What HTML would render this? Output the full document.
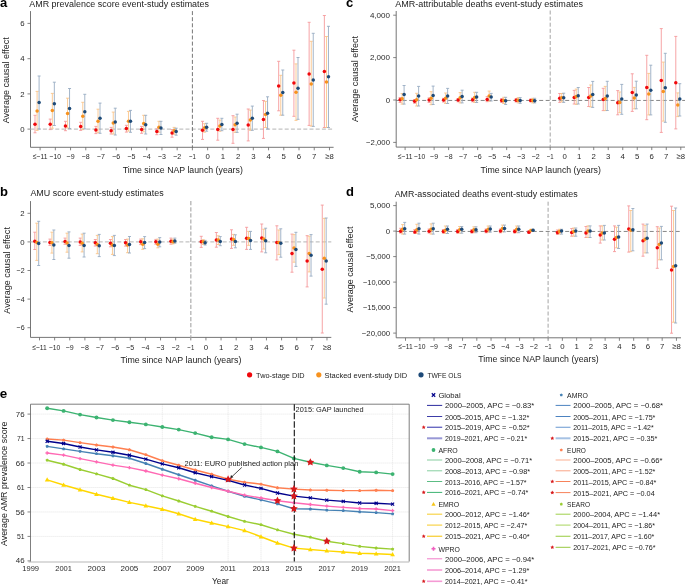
<!DOCTYPE html><html><head><meta charset="utf-8"><style>html,body{margin:0;padding:0;background:#fff;width:685px;height:585px;overflow:hidden}svg{display:block;will-change:transform}text{font-family:"Liberation Sans",sans-serif}</style></head><body>
<svg width="685" height="585" viewBox="0 0 685 585">
<text x="0.00" y="7.00" font-size="13.0" text-anchor="start" fill="#000" font-weight="bold">a</text>
<text x="29.30" y="6.80" font-size="8.3" text-anchor="start" fill="#222" textLength="179.7" lengthAdjust="spacingAndGlyphs">AMR prevalence score event-study estimates</text>
<line x1="30.50" y1="11.10" x2="30.50" y2="147.30" stroke="#666666" stroke-width="0.9"/>
<line x1="30.50" y1="147.30" x2="333.60" y2="147.30" stroke="#666666" stroke-width="0.9"/>
<line x1="27.50" y1="23.40" x2="30.50" y2="23.40" stroke="#666666" stroke-width="0.8"/>
<text x="24.60" y="26.00" font-size="7.8" text-anchor="end" fill="#2a2a2a">6</text>
<line x1="27.50" y1="58.70" x2="30.50" y2="58.70" stroke="#666666" stroke-width="0.8"/>
<text x="24.60" y="61.30" font-size="7.8" text-anchor="end" fill="#2a2a2a">4</text>
<line x1="27.50" y1="93.90" x2="30.50" y2="93.90" stroke="#666666" stroke-width="0.8"/>
<text x="24.60" y="96.50" font-size="7.8" text-anchor="end" fill="#2a2a2a">2</text>
<line x1="27.50" y1="129.10" x2="30.50" y2="129.10" stroke="#666666" stroke-width="0.8"/>
<text x="24.60" y="131.70" font-size="7.8" text-anchor="end" fill="#2a2a2a">0</text>
<line x1="40.10" y1="147.30" x2="40.10" y2="150.30" stroke="#666666" stroke-width="0.8"/>
<text x="40.10" y="159.00" font-size="7.8" text-anchor="middle" fill="#2a2a2a" textLength="14.6" lengthAdjust="spacingAndGlyphs">≤−11</text>
<line x1="55.33" y1="147.30" x2="55.33" y2="150.30" stroke="#666666" stroke-width="0.8"/>
<text x="55.33" y="159.00" font-size="7.8" text-anchor="middle" fill="#2a2a2a" textLength="11.45" lengthAdjust="spacingAndGlyphs">−10</text>
<line x1="70.56" y1="147.30" x2="70.56" y2="150.30" stroke="#666666" stroke-width="0.8"/>
<text x="70.56" y="159.00" font-size="7.8" text-anchor="middle" fill="#2a2a2a" textLength="8.05" lengthAdjust="spacingAndGlyphs">−9</text>
<line x1="85.79" y1="147.30" x2="85.79" y2="150.30" stroke="#666666" stroke-width="0.8"/>
<text x="85.79" y="159.00" font-size="7.8" text-anchor="middle" fill="#2a2a2a" textLength="8.05" lengthAdjust="spacingAndGlyphs">−8</text>
<line x1="101.02" y1="147.30" x2="101.02" y2="150.30" stroke="#666666" stroke-width="0.8"/>
<text x="101.02" y="159.00" font-size="7.8" text-anchor="middle" fill="#2a2a2a" textLength="8.05" lengthAdjust="spacingAndGlyphs">−7</text>
<line x1="116.25" y1="147.30" x2="116.25" y2="150.30" stroke="#666666" stroke-width="0.8"/>
<text x="116.25" y="159.00" font-size="7.8" text-anchor="middle" fill="#2a2a2a" textLength="8.05" lengthAdjust="spacingAndGlyphs">−6</text>
<line x1="131.48" y1="147.30" x2="131.48" y2="150.30" stroke="#666666" stroke-width="0.8"/>
<text x="131.48" y="159.00" font-size="7.8" text-anchor="middle" fill="#2a2a2a" textLength="8.05" lengthAdjust="spacingAndGlyphs">−5</text>
<line x1="146.71" y1="147.30" x2="146.71" y2="150.30" stroke="#666666" stroke-width="0.8"/>
<text x="146.71" y="159.00" font-size="7.8" text-anchor="middle" fill="#2a2a2a" textLength="8.05" lengthAdjust="spacingAndGlyphs">−4</text>
<line x1="161.94" y1="147.30" x2="161.94" y2="150.30" stroke="#666666" stroke-width="0.8"/>
<text x="161.94" y="159.00" font-size="7.8" text-anchor="middle" fill="#2a2a2a" textLength="8.05" lengthAdjust="spacingAndGlyphs">−3</text>
<line x1="177.17" y1="147.30" x2="177.17" y2="150.30" stroke="#666666" stroke-width="0.8"/>
<text x="177.17" y="159.00" font-size="7.8" text-anchor="middle" fill="#2a2a2a" textLength="8.05" lengthAdjust="spacingAndGlyphs">−2</text>
<line x1="192.40" y1="147.30" x2="192.40" y2="150.30" stroke="#666666" stroke-width="0.8"/>
<text x="192.40" y="159.00" font-size="7.8" text-anchor="middle" fill="#2a2a2a" textLength="6.9" lengthAdjust="spacingAndGlyphs">−1</text>
<line x1="207.63" y1="147.30" x2="207.63" y2="150.30" stroke="#666666" stroke-width="0.8"/>
<text x="207.63" y="159.00" font-size="7.8" text-anchor="middle" fill="#2a2a2a">0</text>
<line x1="222.86" y1="147.30" x2="222.86" y2="150.30" stroke="#666666" stroke-width="0.8"/>
<text x="222.86" y="159.00" font-size="7.8" text-anchor="middle" fill="#2a2a2a">1</text>
<line x1="238.09" y1="147.30" x2="238.09" y2="150.30" stroke="#666666" stroke-width="0.8"/>
<text x="238.09" y="159.00" font-size="7.8" text-anchor="middle" fill="#2a2a2a">2</text>
<line x1="253.32" y1="147.30" x2="253.32" y2="150.30" stroke="#666666" stroke-width="0.8"/>
<text x="253.32" y="159.00" font-size="7.8" text-anchor="middle" fill="#2a2a2a">3</text>
<line x1="268.55" y1="147.30" x2="268.55" y2="150.30" stroke="#666666" stroke-width="0.8"/>
<text x="268.55" y="159.00" font-size="7.8" text-anchor="middle" fill="#2a2a2a">4</text>
<line x1="283.78" y1="147.30" x2="283.78" y2="150.30" stroke="#666666" stroke-width="0.8"/>
<text x="283.78" y="159.00" font-size="7.8" text-anchor="middle" fill="#2a2a2a">5</text>
<line x1="299.01" y1="147.30" x2="299.01" y2="150.30" stroke="#666666" stroke-width="0.8"/>
<text x="299.01" y="159.00" font-size="7.8" text-anchor="middle" fill="#2a2a2a">6</text>
<line x1="314.24" y1="147.30" x2="314.24" y2="150.30" stroke="#666666" stroke-width="0.8"/>
<text x="314.24" y="159.00" font-size="7.8" text-anchor="middle" fill="#2a2a2a">7</text>
<line x1="329.47" y1="147.30" x2="329.47" y2="150.30" stroke="#666666" stroke-width="0.8"/>
<text x="329.47" y="159.00" font-size="7.8" text-anchor="middle" fill="#2a2a2a" textLength="8.55" lengthAdjust="spacingAndGlyphs">≥8</text>
<text x="0" y="0" font-size="8.6" fill="#222" text-anchor="middle" textLength="86.1" lengthAdjust="spacingAndGlyphs" transform="translate(8.6,80.2) rotate(-90)">Average causal effect</text>
<text x="182.80" y="172.90" font-size="8.6" text-anchor="middle" fill="#222" textLength="120" lengthAdjust="spacingAndGlyphs">Time since NAP launch (years)</text>
<line x1="30.50" y1="129.10" x2="333.60" y2="129.10" stroke="#c4c4c4" stroke-width="1.3" stroke-dasharray="4 2.2"/>
<line x1="192.40" y1="11.10" x2="192.40" y2="147.30" stroke="#666" stroke-width="0.9" stroke-dasharray="4 2.1"/>
<line x1="35.00" y1="115.30" x2="35.00" y2="132.80" stroke="#f59a9c" stroke-width="0.9"/>
<line x1="33.50" y1="115.30" x2="36.50" y2="115.30" stroke="#f59a9c" stroke-width="0.9"/>
<line x1="33.50" y1="132.80" x2="36.50" y2="132.80" stroke="#f59a9c" stroke-width="0.9"/>
<line x1="37.10" y1="91.40" x2="37.10" y2="130.40" stroke="#fac58a" stroke-width="0.9"/>
<line x1="35.60" y1="91.40" x2="38.60" y2="91.40" stroke="#fac58a" stroke-width="0.9"/>
<line x1="35.60" y1="130.40" x2="38.60" y2="130.40" stroke="#fac58a" stroke-width="0.9"/>
<line x1="39.10" y1="76.00" x2="39.10" y2="129.00" stroke="#98adc3" stroke-width="0.9"/>
<line x1="37.60" y1="76.00" x2="40.60" y2="76.00" stroke="#98adc3" stroke-width="0.9"/>
<line x1="37.60" y1="129.00" x2="40.60" y2="129.00" stroke="#98adc3" stroke-width="0.9"/>
<line x1="50.23" y1="119.10" x2="50.23" y2="129.60" stroke="#f59a9c" stroke-width="0.9"/>
<line x1="48.73" y1="119.10" x2="51.73" y2="119.10" stroke="#f59a9c" stroke-width="0.9"/>
<line x1="48.73" y1="129.60" x2="51.73" y2="129.60" stroke="#f59a9c" stroke-width="0.9"/>
<line x1="52.33" y1="93.40" x2="52.33" y2="128.20" stroke="#fac58a" stroke-width="0.9"/>
<line x1="50.83" y1="93.40" x2="53.83" y2="93.40" stroke="#fac58a" stroke-width="0.9"/>
<line x1="50.83" y1="128.20" x2="53.83" y2="128.20" stroke="#fac58a" stroke-width="0.9"/>
<line x1="54.33" y1="82.20" x2="54.33" y2="125.50" stroke="#98adc3" stroke-width="0.9"/>
<line x1="52.83" y1="82.20" x2="55.83" y2="82.20" stroke="#98adc3" stroke-width="0.9"/>
<line x1="52.83" y1="125.50" x2="55.83" y2="125.50" stroke="#98adc3" stroke-width="0.9"/>
<line x1="65.46" y1="121.30" x2="65.46" y2="130.70" stroke="#f59a9c" stroke-width="0.9"/>
<line x1="63.96" y1="121.30" x2="66.96" y2="121.30" stroke="#f59a9c" stroke-width="0.9"/>
<line x1="63.96" y1="130.70" x2="66.96" y2="130.70" stroke="#f59a9c" stroke-width="0.9"/>
<line x1="67.56" y1="98.20" x2="67.56" y2="128.00" stroke="#fac58a" stroke-width="0.9"/>
<line x1="66.06" y1="98.20" x2="69.06" y2="98.20" stroke="#fac58a" stroke-width="0.9"/>
<line x1="66.06" y1="128.00" x2="69.06" y2="128.00" stroke="#fac58a" stroke-width="0.9"/>
<line x1="69.56" y1="88.50" x2="69.56" y2="128.50" stroke="#98adc3" stroke-width="0.9"/>
<line x1="68.06" y1="88.50" x2="71.06" y2="88.50" stroke="#98adc3" stroke-width="0.9"/>
<line x1="68.06" y1="128.50" x2="71.06" y2="128.50" stroke="#98adc3" stroke-width="0.9"/>
<line x1="80.69" y1="122.30" x2="80.69" y2="130.40" stroke="#f59a9c" stroke-width="0.9"/>
<line x1="79.19" y1="122.30" x2="82.19" y2="122.30" stroke="#f59a9c" stroke-width="0.9"/>
<line x1="79.19" y1="130.40" x2="82.19" y2="130.40" stroke="#f59a9c" stroke-width="0.9"/>
<line x1="82.79" y1="102.30" x2="82.79" y2="129.60" stroke="#fac58a" stroke-width="0.9"/>
<line x1="81.29" y1="102.30" x2="84.29" y2="102.30" stroke="#fac58a" stroke-width="0.9"/>
<line x1="81.29" y1="129.60" x2="84.29" y2="129.60" stroke="#fac58a" stroke-width="0.9"/>
<line x1="84.79" y1="94.30" x2="84.79" y2="128.90" stroke="#98adc3" stroke-width="0.9"/>
<line x1="83.29" y1="94.30" x2="86.29" y2="94.30" stroke="#98adc3" stroke-width="0.9"/>
<line x1="83.29" y1="128.90" x2="86.29" y2="128.90" stroke="#98adc3" stroke-width="0.9"/>
<line x1="95.92" y1="126.40" x2="95.92" y2="133.60" stroke="#f59a9c" stroke-width="0.9"/>
<line x1="94.42" y1="126.40" x2="97.42" y2="126.40" stroke="#f59a9c" stroke-width="0.9"/>
<line x1="94.42" y1="133.60" x2="97.42" y2="133.60" stroke="#f59a9c" stroke-width="0.9"/>
<line x1="98.02" y1="109.20" x2="98.02" y2="132.60" stroke="#fac58a" stroke-width="0.9"/>
<line x1="96.52" y1="109.20" x2="99.52" y2="109.20" stroke="#fac58a" stroke-width="0.9"/>
<line x1="96.52" y1="132.60" x2="99.52" y2="132.60" stroke="#fac58a" stroke-width="0.9"/>
<line x1="100.02" y1="103.10" x2="100.02" y2="133.30" stroke="#98adc3" stroke-width="0.9"/>
<line x1="98.52" y1="103.10" x2="101.52" y2="103.10" stroke="#98adc3" stroke-width="0.9"/>
<line x1="98.52" y1="133.30" x2="101.52" y2="133.30" stroke="#98adc3" stroke-width="0.9"/>
<line x1="111.15" y1="127.40" x2="111.15" y2="134.00" stroke="#f59a9c" stroke-width="0.9"/>
<line x1="109.65" y1="127.40" x2="112.65" y2="127.40" stroke="#f59a9c" stroke-width="0.9"/>
<line x1="109.65" y1="134.00" x2="112.65" y2="134.00" stroke="#f59a9c" stroke-width="0.9"/>
<line x1="113.25" y1="112.10" x2="113.25" y2="134.00" stroke="#fac58a" stroke-width="0.9"/>
<line x1="111.75" y1="112.10" x2="114.75" y2="112.10" stroke="#fac58a" stroke-width="0.9"/>
<line x1="111.75" y1="134.00" x2="114.75" y2="134.00" stroke="#fac58a" stroke-width="0.9"/>
<line x1="115.25" y1="108.20" x2="115.25" y2="135.00" stroke="#98adc3" stroke-width="0.9"/>
<line x1="113.75" y1="108.20" x2="116.75" y2="108.20" stroke="#98adc3" stroke-width="0.9"/>
<line x1="113.75" y1="135.00" x2="116.75" y2="135.00" stroke="#98adc3" stroke-width="0.9"/>
<line x1="126.38" y1="125.30" x2="126.38" y2="132.10" stroke="#f59a9c" stroke-width="0.9"/>
<line x1="124.88" y1="125.30" x2="127.88" y2="125.30" stroke="#f59a9c" stroke-width="0.9"/>
<line x1="124.88" y1="132.10" x2="127.88" y2="132.10" stroke="#f59a9c" stroke-width="0.9"/>
<line x1="128.48" y1="111.40" x2="128.48" y2="131.10" stroke="#fac58a" stroke-width="0.9"/>
<line x1="126.98" y1="111.40" x2="129.98" y2="111.40" stroke="#fac58a" stroke-width="0.9"/>
<line x1="126.98" y1="131.10" x2="129.98" y2="131.10" stroke="#fac58a" stroke-width="0.9"/>
<line x1="130.48" y1="110.40" x2="130.48" y2="132.30" stroke="#98adc3" stroke-width="0.9"/>
<line x1="128.98" y1="110.40" x2="131.98" y2="110.40" stroke="#98adc3" stroke-width="0.9"/>
<line x1="128.98" y1="132.30" x2="131.98" y2="132.30" stroke="#98adc3" stroke-width="0.9"/>
<line x1="141.61" y1="126.40" x2="141.61" y2="133.30" stroke="#f59a9c" stroke-width="0.9"/>
<line x1="140.11" y1="126.40" x2="143.11" y2="126.40" stroke="#f59a9c" stroke-width="0.9"/>
<line x1="140.11" y1="133.30" x2="143.11" y2="133.30" stroke="#f59a9c" stroke-width="0.9"/>
<line x1="143.71" y1="115.30" x2="143.71" y2="131.80" stroke="#fac58a" stroke-width="0.9"/>
<line x1="142.21" y1="115.30" x2="145.21" y2="115.30" stroke="#fac58a" stroke-width="0.9"/>
<line x1="142.21" y1="131.80" x2="145.21" y2="131.80" stroke="#fac58a" stroke-width="0.9"/>
<line x1="145.71" y1="115.30" x2="145.71" y2="134.00" stroke="#98adc3" stroke-width="0.9"/>
<line x1="144.21" y1="115.30" x2="147.21" y2="115.30" stroke="#98adc3" stroke-width="0.9"/>
<line x1="144.21" y1="134.00" x2="147.21" y2="134.00" stroke="#98adc3" stroke-width="0.9"/>
<line x1="156.84" y1="128.90" x2="156.84" y2="134.70" stroke="#f59a9c" stroke-width="0.9"/>
<line x1="155.34" y1="128.90" x2="158.34" y2="128.90" stroke="#f59a9c" stroke-width="0.9"/>
<line x1="155.34" y1="134.70" x2="158.34" y2="134.70" stroke="#f59a9c" stroke-width="0.9"/>
<line x1="158.94" y1="121.30" x2="158.94" y2="132.30" stroke="#fac58a" stroke-width="0.9"/>
<line x1="157.44" y1="121.30" x2="160.44" y2="121.30" stroke="#fac58a" stroke-width="0.9"/>
<line x1="157.44" y1="132.30" x2="160.44" y2="132.30" stroke="#fac58a" stroke-width="0.9"/>
<line x1="160.94" y1="121.30" x2="160.94" y2="134.50" stroke="#98adc3" stroke-width="0.9"/>
<line x1="159.44" y1="121.30" x2="162.44" y2="121.30" stroke="#98adc3" stroke-width="0.9"/>
<line x1="159.44" y1="134.50" x2="162.44" y2="134.50" stroke="#98adc3" stroke-width="0.9"/>
<line x1="172.07" y1="129.60" x2="172.07" y2="137.20" stroke="#f59a9c" stroke-width="0.9"/>
<line x1="170.57" y1="129.60" x2="173.57" y2="129.60" stroke="#f59a9c" stroke-width="0.9"/>
<line x1="170.57" y1="137.20" x2="173.57" y2="137.20" stroke="#f59a9c" stroke-width="0.9"/>
<line x1="174.17" y1="127.40" x2="174.17" y2="134.30" stroke="#fac58a" stroke-width="0.9"/>
<line x1="172.67" y1="127.40" x2="175.67" y2="127.40" stroke="#fac58a" stroke-width="0.9"/>
<line x1="172.67" y1="134.30" x2="175.67" y2="134.30" stroke="#fac58a" stroke-width="0.9"/>
<line x1="176.17" y1="128.20" x2="176.17" y2="135.20" stroke="#98adc3" stroke-width="0.9"/>
<line x1="174.67" y1="128.20" x2="177.67" y2="128.20" stroke="#98adc3" stroke-width="0.9"/>
<line x1="174.67" y1="135.20" x2="177.67" y2="135.20" stroke="#98adc3" stroke-width="0.9"/>
<line x1="202.53" y1="121.30" x2="202.53" y2="139.40" stroke="#f59a9c" stroke-width="0.9"/>
<line x1="201.03" y1="121.30" x2="204.03" y2="121.30" stroke="#f59a9c" stroke-width="0.9"/>
<line x1="201.03" y1="139.40" x2="204.03" y2="139.40" stroke="#f59a9c" stroke-width="0.9"/>
<line x1="204.63" y1="123.70" x2="204.63" y2="132.20" stroke="#fac58a" stroke-width="0.9"/>
<line x1="203.13" y1="123.70" x2="206.13" y2="123.70" stroke="#fac58a" stroke-width="0.9"/>
<line x1="203.13" y1="132.20" x2="206.13" y2="132.20" stroke="#fac58a" stroke-width="0.9"/>
<line x1="206.63" y1="123.30" x2="206.63" y2="131.20" stroke="#98adc3" stroke-width="0.9"/>
<line x1="205.13" y1="123.30" x2="208.13" y2="123.30" stroke="#98adc3" stroke-width="0.9"/>
<line x1="205.13" y1="131.20" x2="208.13" y2="131.20" stroke="#98adc3" stroke-width="0.9"/>
<line x1="217.76" y1="118.30" x2="217.76" y2="140.20" stroke="#f59a9c" stroke-width="0.9"/>
<line x1="216.26" y1="118.30" x2="219.26" y2="118.30" stroke="#f59a9c" stroke-width="0.9"/>
<line x1="216.26" y1="140.20" x2="219.26" y2="140.20" stroke="#f59a9c" stroke-width="0.9"/>
<line x1="219.86" y1="120.10" x2="219.86" y2="131.30" stroke="#fac58a" stroke-width="0.9"/>
<line x1="218.36" y1="120.10" x2="221.36" y2="120.10" stroke="#fac58a" stroke-width="0.9"/>
<line x1="218.36" y1="131.30" x2="221.36" y2="131.30" stroke="#fac58a" stroke-width="0.9"/>
<line x1="221.86" y1="118.30" x2="221.86" y2="130.70" stroke="#98adc3" stroke-width="0.9"/>
<line x1="220.36" y1="118.30" x2="223.36" y2="118.30" stroke="#98adc3" stroke-width="0.9"/>
<line x1="220.36" y1="130.70" x2="223.36" y2="130.70" stroke="#98adc3" stroke-width="0.9"/>
<line x1="232.99" y1="115.70" x2="232.99" y2="143.30" stroke="#f59a9c" stroke-width="0.9"/>
<line x1="231.49" y1="115.70" x2="234.49" y2="115.70" stroke="#f59a9c" stroke-width="0.9"/>
<line x1="231.49" y1="143.30" x2="234.49" y2="143.30" stroke="#f59a9c" stroke-width="0.9"/>
<line x1="235.09" y1="117.00" x2="235.09" y2="132.40" stroke="#fac58a" stroke-width="0.9"/>
<line x1="233.59" y1="117.00" x2="236.59" y2="117.00" stroke="#fac58a" stroke-width="0.9"/>
<line x1="233.59" y1="132.40" x2="236.59" y2="132.40" stroke="#fac58a" stroke-width="0.9"/>
<line x1="237.09" y1="114.20" x2="237.09" y2="132.40" stroke="#98adc3" stroke-width="0.9"/>
<line x1="235.59" y1="114.20" x2="238.59" y2="114.20" stroke="#98adc3" stroke-width="0.9"/>
<line x1="235.59" y1="132.40" x2="238.59" y2="132.40" stroke="#98adc3" stroke-width="0.9"/>
<line x1="248.22" y1="109.00" x2="248.22" y2="140.90" stroke="#f59a9c" stroke-width="0.9"/>
<line x1="246.72" y1="109.00" x2="249.72" y2="109.00" stroke="#f59a9c" stroke-width="0.9"/>
<line x1="246.72" y1="140.90" x2="249.72" y2="140.90" stroke="#f59a9c" stroke-width="0.9"/>
<line x1="250.32" y1="110.10" x2="250.32" y2="130.30" stroke="#fac58a" stroke-width="0.9"/>
<line x1="248.82" y1="110.10" x2="251.82" y2="110.10" stroke="#fac58a" stroke-width="0.9"/>
<line x1="248.82" y1="130.30" x2="251.82" y2="130.30" stroke="#fac58a" stroke-width="0.9"/>
<line x1="252.32" y1="106.10" x2="252.32" y2="130.30" stroke="#98adc3" stroke-width="0.9"/>
<line x1="250.82" y1="106.10" x2="253.82" y2="106.10" stroke="#98adc3" stroke-width="0.9"/>
<line x1="250.82" y1="130.30" x2="253.82" y2="130.30" stroke="#98adc3" stroke-width="0.9"/>
<line x1="263.45" y1="100.50" x2="263.45" y2="138.40" stroke="#f59a9c" stroke-width="0.9"/>
<line x1="261.95" y1="100.50" x2="264.95" y2="100.50" stroke="#f59a9c" stroke-width="0.9"/>
<line x1="261.95" y1="138.40" x2="264.95" y2="138.40" stroke="#f59a9c" stroke-width="0.9"/>
<line x1="265.55" y1="101.40" x2="265.55" y2="127.50" stroke="#fac58a" stroke-width="0.9"/>
<line x1="264.05" y1="101.40" x2="267.05" y2="101.40" stroke="#fac58a" stroke-width="0.9"/>
<line x1="264.05" y1="127.50" x2="267.05" y2="127.50" stroke="#fac58a" stroke-width="0.9"/>
<line x1="267.55" y1="96.80" x2="267.55" y2="129.00" stroke="#98adc3" stroke-width="0.9"/>
<line x1="266.05" y1="96.80" x2="269.05" y2="96.80" stroke="#98adc3" stroke-width="0.9"/>
<line x1="266.05" y1="129.00" x2="269.05" y2="129.00" stroke="#98adc3" stroke-width="0.9"/>
<line x1="278.68" y1="61.30" x2="278.68" y2="110.80" stroke="#f59a9c" stroke-width="0.9"/>
<line x1="277.18" y1="61.30" x2="280.18" y2="61.30" stroke="#f59a9c" stroke-width="0.9"/>
<line x1="277.18" y1="110.80" x2="280.18" y2="110.80" stroke="#f59a9c" stroke-width="0.9"/>
<line x1="280.78" y1="75.30" x2="280.78" y2="115.20" stroke="#fac58a" stroke-width="0.9"/>
<line x1="279.28" y1="75.30" x2="282.28" y2="75.30" stroke="#fac58a" stroke-width="0.9"/>
<line x1="279.28" y1="115.20" x2="282.28" y2="115.20" stroke="#fac58a" stroke-width="0.9"/>
<line x1="282.78" y1="70.00" x2="282.78" y2="115.20" stroke="#98adc3" stroke-width="0.9"/>
<line x1="281.28" y1="70.00" x2="284.28" y2="70.00" stroke="#98adc3" stroke-width="0.9"/>
<line x1="281.28" y1="115.20" x2="284.28" y2="115.20" stroke="#98adc3" stroke-width="0.9"/>
<line x1="293.91" y1="50.20" x2="293.91" y2="116.30" stroke="#f59a9c" stroke-width="0.9"/>
<line x1="292.41" y1="50.20" x2="295.41" y2="50.20" stroke="#f59a9c" stroke-width="0.9"/>
<line x1="292.41" y1="116.30" x2="295.41" y2="116.30" stroke="#f59a9c" stroke-width="0.9"/>
<line x1="296.01" y1="63.90" x2="296.01" y2="120.40" stroke="#fac58a" stroke-width="0.9"/>
<line x1="294.51" y1="63.90" x2="297.51" y2="63.90" stroke="#fac58a" stroke-width="0.9"/>
<line x1="294.51" y1="120.40" x2="297.51" y2="120.40" stroke="#fac58a" stroke-width="0.9"/>
<line x1="298.01" y1="57.50" x2="298.01" y2="119.30" stroke="#98adc3" stroke-width="0.9"/>
<line x1="296.51" y1="57.50" x2="299.51" y2="57.50" stroke="#98adc3" stroke-width="0.9"/>
<line x1="296.51" y1="119.30" x2="299.51" y2="119.30" stroke="#98adc3" stroke-width="0.9"/>
<line x1="309.14" y1="22.30" x2="309.14" y2="125.40" stroke="#f59a9c" stroke-width="0.9"/>
<line x1="307.64" y1="22.30" x2="310.64" y2="22.30" stroke="#f59a9c" stroke-width="0.9"/>
<line x1="307.64" y1="125.40" x2="310.64" y2="125.40" stroke="#f59a9c" stroke-width="0.9"/>
<line x1="311.24" y1="41.30" x2="311.24" y2="126.10" stroke="#fac58a" stroke-width="0.9"/>
<line x1="309.74" y1="41.30" x2="312.74" y2="41.30" stroke="#fac58a" stroke-width="0.9"/>
<line x1="309.74" y1="126.10" x2="312.74" y2="126.10" stroke="#fac58a" stroke-width="0.9"/>
<line x1="313.24" y1="33.30" x2="313.24" y2="126.40" stroke="#98adc3" stroke-width="0.9"/>
<line x1="311.74" y1="33.30" x2="314.74" y2="33.30" stroke="#98adc3" stroke-width="0.9"/>
<line x1="311.74" y1="126.40" x2="314.74" y2="126.40" stroke="#98adc3" stroke-width="0.9"/>
<line x1="324.37" y1="15.50" x2="324.37" y2="127.50" stroke="#f59a9c" stroke-width="0.9"/>
<line x1="322.87" y1="15.50" x2="325.87" y2="15.50" stroke="#f59a9c" stroke-width="0.9"/>
<line x1="322.87" y1="127.50" x2="325.87" y2="127.50" stroke="#f59a9c" stroke-width="0.9"/>
<line x1="326.47" y1="36.50" x2="326.47" y2="127.50" stroke="#fac58a" stroke-width="0.9"/>
<line x1="324.97" y1="36.50" x2="327.97" y2="36.50" stroke="#fac58a" stroke-width="0.9"/>
<line x1="324.97" y1="127.50" x2="327.97" y2="127.50" stroke="#fac58a" stroke-width="0.9"/>
<line x1="328.47" y1="26.30" x2="328.47" y2="127.50" stroke="#98adc3" stroke-width="0.9"/>
<line x1="326.97" y1="26.30" x2="329.97" y2="26.30" stroke="#98adc3" stroke-width="0.9"/>
<line x1="326.97" y1="127.50" x2="329.97" y2="127.50" stroke="#98adc3" stroke-width="0.9"/>
<circle cx="35.00" cy="124.20" r="1.75" fill="#f0080c"/>
<circle cx="37.10" cy="111.00" r="1.75" fill="#f7921e"/>
<circle cx="39.10" cy="102.60" r="1.75" fill="#1d4a78"/>
<circle cx="50.23" cy="124.20" r="1.75" fill="#f0080c"/>
<circle cx="52.33" cy="110.40" r="1.75" fill="#f7921e"/>
<circle cx="54.33" cy="103.80" r="1.75" fill="#1d4a78"/>
<circle cx="65.46" cy="126.10" r="1.75" fill="#f0080c"/>
<circle cx="67.56" cy="113.60" r="1.75" fill="#f7921e"/>
<circle cx="69.56" cy="108.50" r="1.75" fill="#1d4a78"/>
<circle cx="80.69" cy="126.40" r="1.75" fill="#f0080c"/>
<circle cx="82.79" cy="116.20" r="1.75" fill="#f7921e"/>
<circle cx="84.79" cy="111.80" r="1.75" fill="#1d4a78"/>
<circle cx="95.92" cy="129.90" r="1.75" fill="#f0080c"/>
<circle cx="98.02" cy="121.30" r="1.75" fill="#f7921e"/>
<circle cx="100.02" cy="118.20" r="1.75" fill="#1d4a78"/>
<circle cx="111.15" cy="130.80" r="1.75" fill="#f0080c"/>
<circle cx="113.25" cy="123.10" r="1.75" fill="#f7921e"/>
<circle cx="115.25" cy="121.90" r="1.75" fill="#1d4a78"/>
<circle cx="126.38" cy="128.60" r="1.75" fill="#f0080c"/>
<circle cx="128.48" cy="121.30" r="1.75" fill="#f7921e"/>
<circle cx="130.48" cy="121.30" r="1.75" fill="#1d4a78"/>
<circle cx="141.61" cy="129.60" r="1.75" fill="#f0080c"/>
<circle cx="143.71" cy="123.50" r="1.75" fill="#f7921e"/>
<circle cx="145.71" cy="124.80" r="1.75" fill="#1d4a78"/>
<circle cx="156.84" cy="131.40" r="1.75" fill="#f0080c"/>
<circle cx="158.94" cy="127.20" r="1.75" fill="#f7921e"/>
<circle cx="160.94" cy="127.90" r="1.75" fill="#1d4a78"/>
<circle cx="172.07" cy="133.00" r="1.75" fill="#f0080c"/>
<circle cx="174.17" cy="130.80" r="1.75" fill="#f7921e"/>
<circle cx="176.17" cy="131.50" r="1.75" fill="#1d4a78"/>
<circle cx="202.53" cy="130.30" r="1.75" fill="#f0080c"/>
<circle cx="204.63" cy="127.80" r="1.75" fill="#f7921e"/>
<circle cx="206.63" cy="127.20" r="1.75" fill="#1d4a78"/>
<circle cx="217.76" cy="129.50" r="1.75" fill="#f0080c"/>
<circle cx="219.86" cy="126.00" r="1.75" fill="#f7921e"/>
<circle cx="221.86" cy="124.50" r="1.75" fill="#1d4a78"/>
<circle cx="232.99" cy="129.50" r="1.75" fill="#f0080c"/>
<circle cx="235.09" cy="124.70" r="1.75" fill="#f7921e"/>
<circle cx="237.09" cy="123.30" r="1.75" fill="#1d4a78"/>
<circle cx="248.22" cy="125.10" r="1.75" fill="#f0080c"/>
<circle cx="250.32" cy="120.10" r="1.75" fill="#f7921e"/>
<circle cx="252.32" cy="118.30" r="1.75" fill="#1d4a78"/>
<circle cx="263.45" cy="119.50" r="1.75" fill="#f0080c"/>
<circle cx="265.55" cy="114.40" r="1.75" fill="#f7921e"/>
<circle cx="267.55" cy="113.20" r="1.75" fill="#1d4a78"/>
<circle cx="278.68" cy="86.10" r="1.75" fill="#f0080c"/>
<circle cx="280.78" cy="95.30" r="1.75" fill="#f7921e"/>
<circle cx="282.78" cy="92.60" r="1.75" fill="#1d4a78"/>
<circle cx="293.91" cy="83.00" r="1.75" fill="#f0080c"/>
<circle cx="296.01" cy="92.20" r="1.75" fill="#f7921e"/>
<circle cx="298.01" cy="88.20" r="1.75" fill="#1d4a78"/>
<circle cx="309.14" cy="74.10" r="1.75" fill="#f0080c"/>
<circle cx="311.24" cy="84.00" r="1.75" fill="#f7921e"/>
<circle cx="313.24" cy="79.90" r="1.75" fill="#1d4a78"/>
<circle cx="324.37" cy="71.60" r="1.75" fill="#f0080c"/>
<circle cx="326.47" cy="82.00" r="1.75" fill="#f7921e"/>
<circle cx="328.47" cy="76.80" r="1.75" fill="#1d4a78"/>
<text x="0.00" y="196.00" font-size="13.0" text-anchor="start" fill="#000" font-weight="bold">b</text>
<text x="30.40" y="195.90" font-size="8.3" text-anchor="start" fill="#222" textLength="133.3" lengthAdjust="spacingAndGlyphs">AMU score event-study estimates</text>
<line x1="30.50" y1="201.10" x2="30.50" y2="337.40" stroke="#666666" stroke-width="0.9"/>
<line x1="30.50" y1="337.40" x2="331.30" y2="337.40" stroke="#666666" stroke-width="0.9"/>
<line x1="27.50" y1="213.30" x2="30.50" y2="213.30" stroke="#666666" stroke-width="0.8"/>
<text x="24.60" y="215.90" font-size="7.8" text-anchor="end" fill="#2a2a2a">2</text>
<line x1="27.50" y1="241.90" x2="30.50" y2="241.90" stroke="#666666" stroke-width="0.8"/>
<text x="24.60" y="244.50" font-size="7.8" text-anchor="end" fill="#2a2a2a">0</text>
<line x1="27.50" y1="270.50" x2="30.50" y2="270.50" stroke="#666666" stroke-width="0.8"/>
<text x="24.60" y="273.10" font-size="7.8" text-anchor="end" fill="#2a2a2a" textLength="8.05" lengthAdjust="spacingAndGlyphs">−2</text>
<line x1="27.50" y1="299.10" x2="30.50" y2="299.10" stroke="#666666" stroke-width="0.8"/>
<text x="24.60" y="301.70" font-size="7.8" text-anchor="end" fill="#2a2a2a" textLength="8.05" lengthAdjust="spacingAndGlyphs">−4</text>
<line x1="27.50" y1="327.70" x2="30.50" y2="327.70" stroke="#666666" stroke-width="0.8"/>
<text x="24.60" y="330.30" font-size="7.8" text-anchor="end" fill="#2a2a2a" textLength="8.05" lengthAdjust="spacingAndGlyphs">−6</text>
<line x1="39.50" y1="337.40" x2="39.50" y2="340.40" stroke="#666666" stroke-width="0.8"/>
<text x="39.50" y="349.50" font-size="7.8" text-anchor="middle" fill="#2a2a2a" textLength="14.6" lengthAdjust="spacingAndGlyphs">≤−11</text>
<line x1="54.63" y1="337.40" x2="54.63" y2="340.40" stroke="#666666" stroke-width="0.8"/>
<text x="54.63" y="349.50" font-size="7.8" text-anchor="middle" fill="#2a2a2a" textLength="11.45" lengthAdjust="spacingAndGlyphs">−10</text>
<line x1="69.76" y1="337.40" x2="69.76" y2="340.40" stroke="#666666" stroke-width="0.8"/>
<text x="69.76" y="349.50" font-size="7.8" text-anchor="middle" fill="#2a2a2a" textLength="8.05" lengthAdjust="spacingAndGlyphs">−9</text>
<line x1="84.89" y1="337.40" x2="84.89" y2="340.40" stroke="#666666" stroke-width="0.8"/>
<text x="84.89" y="349.50" font-size="7.8" text-anchor="middle" fill="#2a2a2a" textLength="8.05" lengthAdjust="spacingAndGlyphs">−8</text>
<line x1="100.02" y1="337.40" x2="100.02" y2="340.40" stroke="#666666" stroke-width="0.8"/>
<text x="100.02" y="349.50" font-size="7.8" text-anchor="middle" fill="#2a2a2a" textLength="8.05" lengthAdjust="spacingAndGlyphs">−7</text>
<line x1="115.15" y1="337.40" x2="115.15" y2="340.40" stroke="#666666" stroke-width="0.8"/>
<text x="115.15" y="349.50" font-size="7.8" text-anchor="middle" fill="#2a2a2a" textLength="8.05" lengthAdjust="spacingAndGlyphs">−6</text>
<line x1="130.28" y1="337.40" x2="130.28" y2="340.40" stroke="#666666" stroke-width="0.8"/>
<text x="130.28" y="349.50" font-size="7.8" text-anchor="middle" fill="#2a2a2a" textLength="8.05" lengthAdjust="spacingAndGlyphs">−5</text>
<line x1="145.41" y1="337.40" x2="145.41" y2="340.40" stroke="#666666" stroke-width="0.8"/>
<text x="145.41" y="349.50" font-size="7.8" text-anchor="middle" fill="#2a2a2a" textLength="8.05" lengthAdjust="spacingAndGlyphs">−4</text>
<line x1="160.54" y1="337.40" x2="160.54" y2="340.40" stroke="#666666" stroke-width="0.8"/>
<text x="160.54" y="349.50" font-size="7.8" text-anchor="middle" fill="#2a2a2a" textLength="8.05" lengthAdjust="spacingAndGlyphs">−3</text>
<line x1="175.67" y1="337.40" x2="175.67" y2="340.40" stroke="#666666" stroke-width="0.8"/>
<text x="175.67" y="349.50" font-size="7.8" text-anchor="middle" fill="#2a2a2a" textLength="8.05" lengthAdjust="spacingAndGlyphs">−2</text>
<line x1="190.80" y1="337.40" x2="190.80" y2="340.40" stroke="#666666" stroke-width="0.8"/>
<text x="190.80" y="349.50" font-size="7.8" text-anchor="middle" fill="#2a2a2a" textLength="6.9" lengthAdjust="spacingAndGlyphs">−1</text>
<line x1="205.93" y1="337.40" x2="205.93" y2="340.40" stroke="#666666" stroke-width="0.8"/>
<text x="205.93" y="349.50" font-size="7.8" text-anchor="middle" fill="#2a2a2a">0</text>
<line x1="221.06" y1="337.40" x2="221.06" y2="340.40" stroke="#666666" stroke-width="0.8"/>
<text x="221.06" y="349.50" font-size="7.8" text-anchor="middle" fill="#2a2a2a">1</text>
<line x1="236.19" y1="337.40" x2="236.19" y2="340.40" stroke="#666666" stroke-width="0.8"/>
<text x="236.19" y="349.50" font-size="7.8" text-anchor="middle" fill="#2a2a2a">2</text>
<line x1="251.32" y1="337.40" x2="251.32" y2="340.40" stroke="#666666" stroke-width="0.8"/>
<text x="251.32" y="349.50" font-size="7.8" text-anchor="middle" fill="#2a2a2a">3</text>
<line x1="266.45" y1="337.40" x2="266.45" y2="340.40" stroke="#666666" stroke-width="0.8"/>
<text x="266.45" y="349.50" font-size="7.8" text-anchor="middle" fill="#2a2a2a">4</text>
<line x1="281.58" y1="337.40" x2="281.58" y2="340.40" stroke="#666666" stroke-width="0.8"/>
<text x="281.58" y="349.50" font-size="7.8" text-anchor="middle" fill="#2a2a2a">5</text>
<line x1="296.71" y1="337.40" x2="296.71" y2="340.40" stroke="#666666" stroke-width="0.8"/>
<text x="296.71" y="349.50" font-size="7.8" text-anchor="middle" fill="#2a2a2a">6</text>
<line x1="311.84" y1="337.40" x2="311.84" y2="340.40" stroke="#666666" stroke-width="0.8"/>
<text x="311.84" y="349.50" font-size="7.8" text-anchor="middle" fill="#2a2a2a">7</text>
<line x1="326.97" y1="337.40" x2="326.97" y2="340.40" stroke="#666666" stroke-width="0.8"/>
<text x="326.97" y="349.50" font-size="7.8" text-anchor="middle" fill="#2a2a2a" textLength="8.55" lengthAdjust="spacingAndGlyphs">≥8</text>
<text x="0" y="0" font-size="8.6" fill="#222" text-anchor="middle" textLength="86.6" lengthAdjust="spacingAndGlyphs" transform="translate(10.0,270.4) rotate(-90)">Average causal effect</text>
<text x="180.90" y="362.90" font-size="8.6" text-anchor="middle" fill="#222" textLength="121" lengthAdjust="spacingAndGlyphs">Time since NAP launch (years)</text>
<line x1="30.50" y1="241.90" x2="331.30" y2="241.90" stroke="#c4c4c4" stroke-width="1.3" stroke-dasharray="4 2.2"/>
<line x1="190.80" y1="201.10" x2="190.80" y2="337.40" stroke="#bdbdbd" stroke-width="1.5" stroke-dasharray="4.2 1.9"/>
<line x1="34.80" y1="232.20" x2="34.80" y2="249.50" stroke="#f59a9c" stroke-width="0.9"/>
<line x1="33.30" y1="232.20" x2="36.30" y2="232.20" stroke="#f59a9c" stroke-width="0.9"/>
<line x1="33.30" y1="249.50" x2="36.30" y2="249.50" stroke="#f59a9c" stroke-width="0.9"/>
<line x1="36.80" y1="223.20" x2="36.80" y2="260.40" stroke="#fac58a" stroke-width="0.9"/>
<line x1="35.30" y1="223.20" x2="38.30" y2="223.20" stroke="#fac58a" stroke-width="0.9"/>
<line x1="35.30" y1="260.40" x2="38.30" y2="260.40" stroke="#fac58a" stroke-width="0.9"/>
<line x1="38.70" y1="221.30" x2="38.70" y2="265.50" stroke="#98adc3" stroke-width="0.9"/>
<line x1="37.20" y1="221.30" x2="40.20" y2="221.30" stroke="#98adc3" stroke-width="0.9"/>
<line x1="37.20" y1="265.50" x2="40.20" y2="265.50" stroke="#98adc3" stroke-width="0.9"/>
<line x1="49.93" y1="239.10" x2="49.93" y2="245.40" stroke="#f59a9c" stroke-width="0.9"/>
<line x1="48.43" y1="239.10" x2="51.43" y2="239.10" stroke="#f59a9c" stroke-width="0.9"/>
<line x1="48.43" y1="245.40" x2="51.43" y2="245.40" stroke="#f59a9c" stroke-width="0.9"/>
<line x1="51.93" y1="232.20" x2="51.93" y2="253.10" stroke="#fac58a" stroke-width="0.9"/>
<line x1="50.43" y1="232.20" x2="53.43" y2="232.20" stroke="#fac58a" stroke-width="0.9"/>
<line x1="50.43" y1="253.10" x2="53.43" y2="253.10" stroke="#fac58a" stroke-width="0.9"/>
<line x1="53.83" y1="230.00" x2="53.83" y2="259.50" stroke="#98adc3" stroke-width="0.9"/>
<line x1="52.33" y1="230.00" x2="55.33" y2="230.00" stroke="#98adc3" stroke-width="0.9"/>
<line x1="52.33" y1="259.50" x2="55.33" y2="259.50" stroke="#98adc3" stroke-width="0.9"/>
<line x1="65.06" y1="238.10" x2="65.06" y2="244.30" stroke="#f59a9c" stroke-width="0.9"/>
<line x1="63.56" y1="238.10" x2="66.56" y2="238.10" stroke="#f59a9c" stroke-width="0.9"/>
<line x1="63.56" y1="244.30" x2="66.56" y2="244.30" stroke="#f59a9c" stroke-width="0.9"/>
<line x1="67.06" y1="233.20" x2="67.06" y2="252.20" stroke="#fac58a" stroke-width="0.9"/>
<line x1="65.56" y1="233.20" x2="68.56" y2="233.20" stroke="#fac58a" stroke-width="0.9"/>
<line x1="65.56" y1="252.20" x2="68.56" y2="252.20" stroke="#fac58a" stroke-width="0.9"/>
<line x1="68.96" y1="231.90" x2="68.96" y2="258.20" stroke="#98adc3" stroke-width="0.9"/>
<line x1="67.46" y1="231.90" x2="70.46" y2="231.90" stroke="#98adc3" stroke-width="0.9"/>
<line x1="67.46" y1="258.20" x2="70.46" y2="258.20" stroke="#98adc3" stroke-width="0.9"/>
<line x1="80.19" y1="238.10" x2="80.19" y2="245.40" stroke="#f59a9c" stroke-width="0.9"/>
<line x1="78.69" y1="238.10" x2="81.69" y2="238.10" stroke="#f59a9c" stroke-width="0.9"/>
<line x1="78.69" y1="245.40" x2="81.69" y2="245.40" stroke="#f59a9c" stroke-width="0.9"/>
<line x1="82.19" y1="234.10" x2="82.19" y2="251.90" stroke="#fac58a" stroke-width="0.9"/>
<line x1="80.69" y1="234.10" x2="83.69" y2="234.10" stroke="#fac58a" stroke-width="0.9"/>
<line x1="80.69" y1="251.90" x2="83.69" y2="251.90" stroke="#fac58a" stroke-width="0.9"/>
<line x1="84.09" y1="233.20" x2="84.09" y2="257.00" stroke="#98adc3" stroke-width="0.9"/>
<line x1="82.59" y1="233.20" x2="85.59" y2="233.20" stroke="#98adc3" stroke-width="0.9"/>
<line x1="82.59" y1="257.00" x2="85.59" y2="257.00" stroke="#98adc3" stroke-width="0.9"/>
<line x1="95.32" y1="239.50" x2="95.32" y2="246.00" stroke="#f59a9c" stroke-width="0.9"/>
<line x1="93.82" y1="239.50" x2="96.82" y2="239.50" stroke="#f59a9c" stroke-width="0.9"/>
<line x1="93.82" y1="246.00" x2="96.82" y2="246.00" stroke="#f59a9c" stroke-width="0.9"/>
<line x1="97.32" y1="235.40" x2="97.32" y2="253.70" stroke="#fac58a" stroke-width="0.9"/>
<line x1="95.82" y1="235.40" x2="98.82" y2="235.40" stroke="#fac58a" stroke-width="0.9"/>
<line x1="95.82" y1="253.70" x2="98.82" y2="253.70" stroke="#fac58a" stroke-width="0.9"/>
<line x1="99.22" y1="234.40" x2="99.22" y2="256.60" stroke="#98adc3" stroke-width="0.9"/>
<line x1="97.72" y1="234.40" x2="100.72" y2="234.40" stroke="#98adc3" stroke-width="0.9"/>
<line x1="97.72" y1="256.60" x2="100.72" y2="256.60" stroke="#98adc3" stroke-width="0.9"/>
<line x1="110.45" y1="239.50" x2="110.45" y2="246.80" stroke="#f59a9c" stroke-width="0.9"/>
<line x1="108.95" y1="239.50" x2="111.95" y2="239.50" stroke="#f59a9c" stroke-width="0.9"/>
<line x1="108.95" y1="246.80" x2="111.95" y2="246.80" stroke="#f59a9c" stroke-width="0.9"/>
<line x1="112.45" y1="236.60" x2="112.45" y2="254.40" stroke="#fac58a" stroke-width="0.9"/>
<line x1="110.95" y1="236.60" x2="113.95" y2="236.60" stroke="#fac58a" stroke-width="0.9"/>
<line x1="110.95" y1="254.40" x2="113.95" y2="254.40" stroke="#fac58a" stroke-width="0.9"/>
<line x1="114.35" y1="235.40" x2="114.35" y2="255.60" stroke="#98adc3" stroke-width="0.9"/>
<line x1="112.85" y1="235.40" x2="115.85" y2="235.40" stroke="#98adc3" stroke-width="0.9"/>
<line x1="112.85" y1="255.60" x2="115.85" y2="255.60" stroke="#98adc3" stroke-width="0.9"/>
<line x1="125.58" y1="239.50" x2="125.58" y2="246.10" stroke="#f59a9c" stroke-width="0.9"/>
<line x1="124.08" y1="239.50" x2="127.08" y2="239.50" stroke="#f59a9c" stroke-width="0.9"/>
<line x1="124.08" y1="246.10" x2="127.08" y2="246.10" stroke="#f59a9c" stroke-width="0.9"/>
<line x1="127.58" y1="239.10" x2="127.58" y2="252.70" stroke="#fac58a" stroke-width="0.9"/>
<line x1="126.08" y1="239.10" x2="129.08" y2="239.10" stroke="#fac58a" stroke-width="0.9"/>
<line x1="126.08" y1="252.70" x2="129.08" y2="252.70" stroke="#fac58a" stroke-width="0.9"/>
<line x1="129.48" y1="236.50" x2="129.48" y2="253.00" stroke="#98adc3" stroke-width="0.9"/>
<line x1="127.98" y1="236.50" x2="130.98" y2="236.50" stroke="#98adc3" stroke-width="0.9"/>
<line x1="127.98" y1="253.00" x2="130.98" y2="253.00" stroke="#98adc3" stroke-width="0.9"/>
<line x1="140.71" y1="239.10" x2="140.71" y2="244.60" stroke="#f59a9c" stroke-width="0.9"/>
<line x1="139.21" y1="239.10" x2="142.21" y2="239.10" stroke="#f59a9c" stroke-width="0.9"/>
<line x1="139.21" y1="244.60" x2="142.21" y2="244.60" stroke="#f59a9c" stroke-width="0.9"/>
<line x1="142.71" y1="238.80" x2="142.71" y2="249.30" stroke="#fac58a" stroke-width="0.9"/>
<line x1="141.21" y1="238.80" x2="144.21" y2="238.80" stroke="#fac58a" stroke-width="0.9"/>
<line x1="141.21" y1="249.30" x2="144.21" y2="249.30" stroke="#fac58a" stroke-width="0.9"/>
<line x1="144.61" y1="236.60" x2="144.61" y2="248.60" stroke="#98adc3" stroke-width="0.9"/>
<line x1="143.11" y1="236.60" x2="146.11" y2="236.60" stroke="#98adc3" stroke-width="0.9"/>
<line x1="143.11" y1="248.60" x2="146.11" y2="248.60" stroke="#98adc3" stroke-width="0.9"/>
<line x1="155.84" y1="239.40" x2="155.84" y2="244.20" stroke="#f59a9c" stroke-width="0.9"/>
<line x1="154.34" y1="239.40" x2="157.34" y2="239.40" stroke="#f59a9c" stroke-width="0.9"/>
<line x1="154.34" y1="244.20" x2="157.34" y2="244.20" stroke="#f59a9c" stroke-width="0.9"/>
<line x1="157.84" y1="239.10" x2="157.84" y2="247.80" stroke="#fac58a" stroke-width="0.9"/>
<line x1="156.34" y1="239.10" x2="159.34" y2="239.10" stroke="#fac58a" stroke-width="0.9"/>
<line x1="156.34" y1="247.80" x2="159.34" y2="247.80" stroke="#fac58a" stroke-width="0.9"/>
<line x1="159.74" y1="237.60" x2="159.74" y2="246.80" stroke="#98adc3" stroke-width="0.9"/>
<line x1="158.24" y1="237.60" x2="161.24" y2="237.60" stroke="#98adc3" stroke-width="0.9"/>
<line x1="158.24" y1="246.80" x2="161.24" y2="246.80" stroke="#98adc3" stroke-width="0.9"/>
<line x1="170.97" y1="238.10" x2="170.97" y2="244.20" stroke="#f59a9c" stroke-width="0.9"/>
<line x1="169.47" y1="238.10" x2="172.47" y2="238.10" stroke="#f59a9c" stroke-width="0.9"/>
<line x1="169.47" y1="244.20" x2="172.47" y2="244.20" stroke="#f59a9c" stroke-width="0.9"/>
<line x1="172.97" y1="239.10" x2="172.97" y2="243.90" stroke="#fac58a" stroke-width="0.9"/>
<line x1="171.47" y1="239.10" x2="174.47" y2="239.10" stroke="#fac58a" stroke-width="0.9"/>
<line x1="171.47" y1="243.90" x2="174.47" y2="243.90" stroke="#fac58a" stroke-width="0.9"/>
<line x1="174.87" y1="238.10" x2="174.87" y2="243.20" stroke="#98adc3" stroke-width="0.9"/>
<line x1="173.37" y1="238.10" x2="176.37" y2="238.10" stroke="#98adc3" stroke-width="0.9"/>
<line x1="173.37" y1="243.20" x2="176.37" y2="243.20" stroke="#98adc3" stroke-width="0.9"/>
<line x1="201.23" y1="236.30" x2="201.23" y2="247.40" stroke="#f59a9c" stroke-width="0.9"/>
<line x1="199.73" y1="236.30" x2="202.73" y2="236.30" stroke="#f59a9c" stroke-width="0.9"/>
<line x1="199.73" y1="247.40" x2="202.73" y2="247.40" stroke="#f59a9c" stroke-width="0.9"/>
<line x1="203.23" y1="239.70" x2="203.23" y2="244.50" stroke="#fac58a" stroke-width="0.9"/>
<line x1="201.73" y1="239.70" x2="204.73" y2="239.70" stroke="#fac58a" stroke-width="0.9"/>
<line x1="201.73" y1="244.50" x2="204.73" y2="244.50" stroke="#fac58a" stroke-width="0.9"/>
<line x1="205.13" y1="240.40" x2="205.13" y2="245.00" stroke="#98adc3" stroke-width="0.9"/>
<line x1="203.63" y1="240.40" x2="206.63" y2="240.40" stroke="#98adc3" stroke-width="0.9"/>
<line x1="203.63" y1="245.00" x2="206.63" y2="245.00" stroke="#98adc3" stroke-width="0.9"/>
<line x1="216.36" y1="232.50" x2="216.36" y2="247.20" stroke="#f59a9c" stroke-width="0.9"/>
<line x1="214.86" y1="232.50" x2="217.86" y2="232.50" stroke="#f59a9c" stroke-width="0.9"/>
<line x1="214.86" y1="247.20" x2="217.86" y2="247.20" stroke="#f59a9c" stroke-width="0.9"/>
<line x1="218.36" y1="235.80" x2="218.36" y2="244.50" stroke="#fac58a" stroke-width="0.9"/>
<line x1="216.86" y1="235.80" x2="219.86" y2="235.80" stroke="#fac58a" stroke-width="0.9"/>
<line x1="216.86" y1="244.50" x2="219.86" y2="244.50" stroke="#fac58a" stroke-width="0.9"/>
<line x1="220.26" y1="236.60" x2="220.26" y2="245.70" stroke="#98adc3" stroke-width="0.9"/>
<line x1="218.76" y1="236.60" x2="221.76" y2="236.60" stroke="#98adc3" stroke-width="0.9"/>
<line x1="218.76" y1="245.70" x2="221.76" y2="245.70" stroke="#98adc3" stroke-width="0.9"/>
<line x1="231.49" y1="229.80" x2="231.49" y2="248.40" stroke="#f59a9c" stroke-width="0.9"/>
<line x1="229.99" y1="229.80" x2="232.99" y2="229.80" stroke="#f59a9c" stroke-width="0.9"/>
<line x1="229.99" y1="248.40" x2="232.99" y2="248.40" stroke="#f59a9c" stroke-width="0.9"/>
<line x1="233.49" y1="234.40" x2="233.49" y2="245.30" stroke="#fac58a" stroke-width="0.9"/>
<line x1="231.99" y1="234.40" x2="234.99" y2="234.40" stroke="#fac58a" stroke-width="0.9"/>
<line x1="231.99" y1="245.30" x2="234.99" y2="245.30" stroke="#fac58a" stroke-width="0.9"/>
<line x1="235.39" y1="234.80" x2="235.39" y2="247.80" stroke="#98adc3" stroke-width="0.9"/>
<line x1="233.89" y1="234.80" x2="236.89" y2="234.80" stroke="#98adc3" stroke-width="0.9"/>
<line x1="233.89" y1="247.80" x2="236.89" y2="247.80" stroke="#98adc3" stroke-width="0.9"/>
<line x1="246.62" y1="227.30" x2="246.62" y2="249.40" stroke="#f59a9c" stroke-width="0.9"/>
<line x1="245.12" y1="227.30" x2="248.12" y2="227.30" stroke="#f59a9c" stroke-width="0.9"/>
<line x1="245.12" y1="249.40" x2="248.12" y2="249.40" stroke="#f59a9c" stroke-width="0.9"/>
<line x1="248.62" y1="231.40" x2="248.62" y2="245.30" stroke="#fac58a" stroke-width="0.9"/>
<line x1="247.12" y1="231.40" x2="250.12" y2="231.40" stroke="#fac58a" stroke-width="0.9"/>
<line x1="247.12" y1="245.30" x2="250.12" y2="245.30" stroke="#fac58a" stroke-width="0.9"/>
<line x1="250.52" y1="231.40" x2="250.52" y2="249.40" stroke="#98adc3" stroke-width="0.9"/>
<line x1="249.02" y1="231.40" x2="252.02" y2="231.40" stroke="#98adc3" stroke-width="0.9"/>
<line x1="249.02" y1="249.40" x2="252.02" y2="249.40" stroke="#98adc3" stroke-width="0.9"/>
<line x1="261.75" y1="224.00" x2="261.75" y2="251.90" stroke="#f59a9c" stroke-width="0.9"/>
<line x1="260.25" y1="224.00" x2="263.25" y2="224.00" stroke="#f59a9c" stroke-width="0.9"/>
<line x1="260.25" y1="251.90" x2="263.25" y2="251.90" stroke="#f59a9c" stroke-width="0.9"/>
<line x1="263.75" y1="229.20" x2="263.75" y2="249.00" stroke="#fac58a" stroke-width="0.9"/>
<line x1="262.25" y1="229.20" x2="265.25" y2="229.20" stroke="#fac58a" stroke-width="0.9"/>
<line x1="262.25" y1="249.00" x2="265.25" y2="249.00" stroke="#fac58a" stroke-width="0.9"/>
<line x1="265.65" y1="228.20" x2="265.65" y2="252.80" stroke="#98adc3" stroke-width="0.9"/>
<line x1="264.15" y1="228.20" x2="267.15" y2="228.20" stroke="#98adc3" stroke-width="0.9"/>
<line x1="264.15" y1="252.80" x2="267.15" y2="252.80" stroke="#98adc3" stroke-width="0.9"/>
<line x1="276.88" y1="225.80" x2="276.88" y2="259.90" stroke="#f59a9c" stroke-width="0.9"/>
<line x1="275.38" y1="225.80" x2="278.38" y2="225.80" stroke="#f59a9c" stroke-width="0.9"/>
<line x1="275.38" y1="259.90" x2="278.38" y2="259.90" stroke="#f59a9c" stroke-width="0.9"/>
<line x1="278.88" y1="230.00" x2="278.88" y2="254.60" stroke="#fac58a" stroke-width="0.9"/>
<line x1="277.38" y1="230.00" x2="280.38" y2="230.00" stroke="#fac58a" stroke-width="0.9"/>
<line x1="277.38" y1="254.60" x2="280.38" y2="254.60" stroke="#fac58a" stroke-width="0.9"/>
<line x1="280.78" y1="228.80" x2="280.78" y2="257.20" stroke="#98adc3" stroke-width="0.9"/>
<line x1="279.28" y1="228.80" x2="282.28" y2="228.80" stroke="#98adc3" stroke-width="0.9"/>
<line x1="279.28" y1="257.20" x2="282.28" y2="257.20" stroke="#98adc3" stroke-width="0.9"/>
<line x1="292.01" y1="234.10" x2="292.01" y2="272.20" stroke="#f59a9c" stroke-width="0.9"/>
<line x1="290.51" y1="234.10" x2="293.51" y2="234.10" stroke="#f59a9c" stroke-width="0.9"/>
<line x1="290.51" y1="272.20" x2="293.51" y2="272.20" stroke="#f59a9c" stroke-width="0.9"/>
<line x1="294.01" y1="234.60" x2="294.01" y2="262.20" stroke="#fac58a" stroke-width="0.9"/>
<line x1="292.51" y1="234.60" x2="295.51" y2="234.60" stroke="#fac58a" stroke-width="0.9"/>
<line x1="292.51" y1="262.20" x2="295.51" y2="262.20" stroke="#fac58a" stroke-width="0.9"/>
<line x1="295.91" y1="232.30" x2="295.91" y2="266.40" stroke="#98adc3" stroke-width="0.9"/>
<line x1="294.41" y1="232.30" x2="297.41" y2="232.30" stroke="#98adc3" stroke-width="0.9"/>
<line x1="294.41" y1="266.40" x2="297.41" y2="266.40" stroke="#98adc3" stroke-width="0.9"/>
<line x1="307.14" y1="235.70" x2="307.14" y2="286.90" stroke="#f59a9c" stroke-width="0.9"/>
<line x1="305.64" y1="235.70" x2="308.64" y2="235.70" stroke="#f59a9c" stroke-width="0.9"/>
<line x1="305.64" y1="286.90" x2="308.64" y2="286.90" stroke="#f59a9c" stroke-width="0.9"/>
<line x1="309.14" y1="236.20" x2="309.14" y2="271.90" stroke="#fac58a" stroke-width="0.9"/>
<line x1="307.64" y1="236.20" x2="310.64" y2="236.20" stroke="#fac58a" stroke-width="0.9"/>
<line x1="307.64" y1="271.90" x2="310.64" y2="271.90" stroke="#fac58a" stroke-width="0.9"/>
<line x1="311.04" y1="234.60" x2="311.04" y2="276.10" stroke="#98adc3" stroke-width="0.9"/>
<line x1="309.54" y1="234.60" x2="312.54" y2="234.60" stroke="#98adc3" stroke-width="0.9"/>
<line x1="309.54" y1="276.10" x2="312.54" y2="276.10" stroke="#98adc3" stroke-width="0.9"/>
<line x1="322.27" y1="205.10" x2="322.27" y2="333.00" stroke="#f59a9c" stroke-width="0.9"/>
<line x1="320.77" y1="205.10" x2="323.77" y2="205.10" stroke="#f59a9c" stroke-width="0.9"/>
<line x1="320.77" y1="333.00" x2="323.77" y2="333.00" stroke="#f59a9c" stroke-width="0.9"/>
<line x1="324.27" y1="218.40" x2="324.27" y2="298.00" stroke="#fac58a" stroke-width="0.9"/>
<line x1="322.77" y1="218.40" x2="325.77" y2="218.40" stroke="#fac58a" stroke-width="0.9"/>
<line x1="322.77" y1="298.00" x2="325.77" y2="298.00" stroke="#fac58a" stroke-width="0.9"/>
<line x1="326.17" y1="218.00" x2="326.17" y2="304.20" stroke="#98adc3" stroke-width="0.9"/>
<line x1="324.67" y1="218.00" x2="327.67" y2="218.00" stroke="#98adc3" stroke-width="0.9"/>
<line x1="324.67" y1="304.20" x2="327.67" y2="304.20" stroke="#98adc3" stroke-width="0.9"/>
<circle cx="34.80" cy="241.30" r="1.75" fill="#f0080c"/>
<circle cx="36.80" cy="242.40" r="1.75" fill="#f7921e"/>
<circle cx="38.70" cy="243.50" r="1.75" fill="#1d4a78"/>
<circle cx="49.93" cy="242.40" r="1.75" fill="#f0080c"/>
<circle cx="51.93" cy="242.70" r="1.75" fill="#f7921e"/>
<circle cx="53.83" cy="245.10" r="1.75" fill="#1d4a78"/>
<circle cx="65.06" cy="241.40" r="1.75" fill="#f0080c"/>
<circle cx="67.06" cy="242.90" r="1.75" fill="#f7921e"/>
<circle cx="68.96" cy="245.40" r="1.75" fill="#1d4a78"/>
<circle cx="80.19" cy="242.00" r="1.75" fill="#f0080c"/>
<circle cx="82.19" cy="243.20" r="1.75" fill="#f7921e"/>
<circle cx="84.09" cy="245.40" r="1.75" fill="#1d4a78"/>
<circle cx="95.32" cy="242.70" r="1.75" fill="#f0080c"/>
<circle cx="97.32" cy="244.50" r="1.75" fill="#f7921e"/>
<circle cx="99.22" cy="245.70" r="1.75" fill="#1d4a78"/>
<circle cx="110.45" cy="243.20" r="1.75" fill="#f0080c"/>
<circle cx="112.45" cy="245.00" r="1.75" fill="#f7921e"/>
<circle cx="114.35" cy="245.40" r="1.75" fill="#1d4a78"/>
<circle cx="125.58" cy="242.70" r="1.75" fill="#f0080c"/>
<circle cx="127.58" cy="245.00" r="1.75" fill="#f7921e"/>
<circle cx="129.48" cy="244.60" r="1.75" fill="#1d4a78"/>
<circle cx="140.71" cy="241.70" r="1.75" fill="#f0080c"/>
<circle cx="142.71" cy="244.20" r="1.75" fill="#f7921e"/>
<circle cx="144.61" cy="242.40" r="1.75" fill="#1d4a78"/>
<circle cx="155.84" cy="241.70" r="1.75" fill="#f0080c"/>
<circle cx="157.84" cy="244.20" r="1.75" fill="#f7921e"/>
<circle cx="159.74" cy="242.00" r="1.75" fill="#1d4a78"/>
<circle cx="170.97" cy="241.30" r="1.75" fill="#f0080c"/>
<circle cx="172.97" cy="241.70" r="1.75" fill="#f7921e"/>
<circle cx="174.87" cy="241.00" r="1.75" fill="#1d4a78"/>
<circle cx="201.23" cy="241.80" r="1.75" fill="#f0080c"/>
<circle cx="203.23" cy="241.80" r="1.75" fill="#f7921e"/>
<circle cx="205.13" cy="242.80" r="1.75" fill="#1d4a78"/>
<circle cx="216.36" cy="240.10" r="1.75" fill="#f0080c"/>
<circle cx="218.36" cy="240.10" r="1.75" fill="#f7921e"/>
<circle cx="220.26" cy="241.40" r="1.75" fill="#1d4a78"/>
<circle cx="231.49" cy="239.10" r="1.75" fill="#f0080c"/>
<circle cx="233.49" cy="239.50" r="1.75" fill="#f7921e"/>
<circle cx="235.39" cy="241.40" r="1.75" fill="#1d4a78"/>
<circle cx="246.62" cy="238.30" r="1.75" fill="#f0080c"/>
<circle cx="248.62" cy="238.50" r="1.75" fill="#f7921e"/>
<circle cx="250.52" cy="240.40" r="1.75" fill="#1d4a78"/>
<circle cx="261.75" cy="237.90" r="1.75" fill="#f0080c"/>
<circle cx="263.75" cy="239.10" r="1.75" fill="#f7921e"/>
<circle cx="265.65" cy="240.70" r="1.75" fill="#1d4a78"/>
<circle cx="276.88" cy="242.60" r="1.75" fill="#f0080c"/>
<circle cx="278.88" cy="242.60" r="1.75" fill="#f7921e"/>
<circle cx="280.78" cy="243.30" r="1.75" fill="#1d4a78"/>
<circle cx="292.01" cy="253.50" r="1.75" fill="#f0080c"/>
<circle cx="294.01" cy="248.00" r="1.75" fill="#f7921e"/>
<circle cx="295.91" cy="249.60" r="1.75" fill="#1d4a78"/>
<circle cx="307.14" cy="261.10" r="1.75" fill="#f0080c"/>
<circle cx="309.14" cy="253.50" r="1.75" fill="#f7921e"/>
<circle cx="311.04" cy="255.30" r="1.75" fill="#1d4a78"/>
<circle cx="322.27" cy="269.20" r="1.75" fill="#f0080c"/>
<circle cx="324.27" cy="258.30" r="1.75" fill="#f7921e"/>
<circle cx="326.17" cy="261.10" r="1.75" fill="#1d4a78"/>
<text x="346.00" y="7.00" font-size="13.0" text-anchor="start" fill="#000" font-weight="bold">c</text>
<text x="395.20" y="6.60" font-size="8.3" text-anchor="start" fill="#222" textLength="187.8" lengthAdjust="spacingAndGlyphs">AMR-attributable deaths event-study estimates</text>
<line x1="396.20" y1="11.00" x2="396.20" y2="147.10" stroke="#666666" stroke-width="0.9"/>
<line x1="396.20" y1="147.10" x2="685.00" y2="147.10" stroke="#666666" stroke-width="0.9"/>
<line x1="393.20" y1="15.20" x2="396.20" y2="15.20" stroke="#666666" stroke-width="0.8"/>
<text x="390.00" y="17.80" font-size="7.8" text-anchor="end" fill="#2a2a2a" textLength="20.1" lengthAdjust="spacingAndGlyphs">4,000</text>
<line x1="393.20" y1="57.60" x2="396.20" y2="57.60" stroke="#666666" stroke-width="0.8"/>
<text x="390.00" y="60.20" font-size="7.8" text-anchor="end" fill="#2a2a2a" textLength="20.1" lengthAdjust="spacingAndGlyphs">2,000</text>
<line x1="393.20" y1="100.00" x2="396.20" y2="100.00" stroke="#666666" stroke-width="0.8"/>
<text x="390.00" y="102.60" font-size="7.8" text-anchor="end" fill="#2a2a2a">0</text>
<line x1="393.20" y1="142.40" x2="396.20" y2="142.40" stroke="#666666" stroke-width="0.8"/>
<text x="390.00" y="145.00" font-size="7.8" text-anchor="end" fill="#2a2a2a" textLength="23.9" lengthAdjust="spacingAndGlyphs">−2,000</text>
<line x1="405.10" y1="147.10" x2="405.10" y2="150.10" stroke="#666666" stroke-width="0.8"/>
<text x="405.10" y="158.80" font-size="7.8" text-anchor="middle" fill="#2a2a2a" textLength="14.6" lengthAdjust="spacingAndGlyphs">≤−11</text>
<line x1="419.61" y1="147.10" x2="419.61" y2="150.10" stroke="#666666" stroke-width="0.8"/>
<text x="419.61" y="158.80" font-size="7.8" text-anchor="middle" fill="#2a2a2a" textLength="11.45" lengthAdjust="spacingAndGlyphs">−10</text>
<line x1="434.12" y1="147.10" x2="434.12" y2="150.10" stroke="#666666" stroke-width="0.8"/>
<text x="434.12" y="158.80" font-size="7.8" text-anchor="middle" fill="#2a2a2a" textLength="8.05" lengthAdjust="spacingAndGlyphs">−9</text>
<line x1="448.63" y1="147.10" x2="448.63" y2="150.10" stroke="#666666" stroke-width="0.8"/>
<text x="448.63" y="158.80" font-size="7.8" text-anchor="middle" fill="#2a2a2a" textLength="8.05" lengthAdjust="spacingAndGlyphs">−8</text>
<line x1="463.14" y1="147.10" x2="463.14" y2="150.10" stroke="#666666" stroke-width="0.8"/>
<text x="463.14" y="158.80" font-size="7.8" text-anchor="middle" fill="#2a2a2a" textLength="8.05" lengthAdjust="spacingAndGlyphs">−7</text>
<line x1="477.65" y1="147.10" x2="477.65" y2="150.10" stroke="#666666" stroke-width="0.8"/>
<text x="477.65" y="158.80" font-size="7.8" text-anchor="middle" fill="#2a2a2a" textLength="8.05" lengthAdjust="spacingAndGlyphs">−6</text>
<line x1="492.16" y1="147.10" x2="492.16" y2="150.10" stroke="#666666" stroke-width="0.8"/>
<text x="492.16" y="158.80" font-size="7.8" text-anchor="middle" fill="#2a2a2a" textLength="8.05" lengthAdjust="spacingAndGlyphs">−5</text>
<line x1="506.67" y1="147.10" x2="506.67" y2="150.10" stroke="#666666" stroke-width="0.8"/>
<text x="506.67" y="158.80" font-size="7.8" text-anchor="middle" fill="#2a2a2a" textLength="8.05" lengthAdjust="spacingAndGlyphs">−4</text>
<line x1="521.18" y1="147.10" x2="521.18" y2="150.10" stroke="#666666" stroke-width="0.8"/>
<text x="521.18" y="158.80" font-size="7.8" text-anchor="middle" fill="#2a2a2a" textLength="8.05" lengthAdjust="spacingAndGlyphs">−3</text>
<line x1="535.69" y1="147.10" x2="535.69" y2="150.10" stroke="#666666" stroke-width="0.8"/>
<text x="535.69" y="158.80" font-size="7.8" text-anchor="middle" fill="#2a2a2a" textLength="8.05" lengthAdjust="spacingAndGlyphs">−2</text>
<line x1="550.20" y1="147.10" x2="550.20" y2="150.10" stroke="#666666" stroke-width="0.8"/>
<text x="550.20" y="158.80" font-size="7.8" text-anchor="middle" fill="#2a2a2a" textLength="6.9" lengthAdjust="spacingAndGlyphs">−1</text>
<line x1="564.71" y1="147.10" x2="564.71" y2="150.10" stroke="#666666" stroke-width="0.8"/>
<text x="564.71" y="158.80" font-size="7.8" text-anchor="middle" fill="#2a2a2a">0</text>
<line x1="579.22" y1="147.10" x2="579.22" y2="150.10" stroke="#666666" stroke-width="0.8"/>
<text x="579.22" y="158.80" font-size="7.8" text-anchor="middle" fill="#2a2a2a">1</text>
<line x1="593.73" y1="147.10" x2="593.73" y2="150.10" stroke="#666666" stroke-width="0.8"/>
<text x="593.73" y="158.80" font-size="7.8" text-anchor="middle" fill="#2a2a2a">2</text>
<line x1="608.24" y1="147.10" x2="608.24" y2="150.10" stroke="#666666" stroke-width="0.8"/>
<text x="608.24" y="158.80" font-size="7.8" text-anchor="middle" fill="#2a2a2a">3</text>
<line x1="622.75" y1="147.10" x2="622.75" y2="150.10" stroke="#666666" stroke-width="0.8"/>
<text x="622.75" y="158.80" font-size="7.8" text-anchor="middle" fill="#2a2a2a">4</text>
<line x1="637.26" y1="147.10" x2="637.26" y2="150.10" stroke="#666666" stroke-width="0.8"/>
<text x="637.26" y="158.80" font-size="7.8" text-anchor="middle" fill="#2a2a2a">5</text>
<line x1="651.77" y1="147.10" x2="651.77" y2="150.10" stroke="#666666" stroke-width="0.8"/>
<text x="651.77" y="158.80" font-size="7.8" text-anchor="middle" fill="#2a2a2a">6</text>
<line x1="666.28" y1="147.10" x2="666.28" y2="150.10" stroke="#666666" stroke-width="0.8"/>
<text x="666.28" y="158.80" font-size="7.8" text-anchor="middle" fill="#2a2a2a">7</text>
<line x1="680.79" y1="147.10" x2="680.79" y2="150.10" stroke="#666666" stroke-width="0.8"/>
<text x="680.79" y="158.80" font-size="7.8" text-anchor="middle" fill="#2a2a2a" textLength="8.55" lengthAdjust="spacingAndGlyphs">≥8</text>
<text x="0" y="0" font-size="8.6" fill="#222" text-anchor="middle" textLength="86.1" lengthAdjust="spacingAndGlyphs" transform="translate(358.0,79.0) rotate(-90)">Average causal effect</text>
<text x="540.70" y="172.60" font-size="8.6" text-anchor="middle" fill="#222" textLength="120.4" lengthAdjust="spacingAndGlyphs">Time since NAP launch (years)</text>
<line x1="396.20" y1="100.45" x2="685.00" y2="100.45" stroke="#707070" stroke-width="0.85" stroke-dasharray="4 2.5"/>
<line x1="550.20" y1="10.50" x2="550.20" y2="147.10" stroke="#9a9a9a" stroke-width="0.9" stroke-dasharray="4 2.1"/>
<line x1="400.10" y1="97.50" x2="400.10" y2="102.50" stroke="#f59a9c" stroke-width="0.9"/>
<line x1="398.60" y1="97.50" x2="401.60" y2="97.50" stroke="#f59a9c" stroke-width="0.9"/>
<line x1="398.60" y1="102.50" x2="401.60" y2="102.50" stroke="#f59a9c" stroke-width="0.9"/>
<line x1="402.10" y1="93.60" x2="402.10" y2="104.10" stroke="#fac58a" stroke-width="0.9"/>
<line x1="400.60" y1="93.60" x2="403.60" y2="93.60" stroke="#fac58a" stroke-width="0.9"/>
<line x1="400.60" y1="104.10" x2="403.60" y2="104.10" stroke="#fac58a" stroke-width="0.9"/>
<line x1="404.10" y1="85.50" x2="404.10" y2="104.10" stroke="#98adc3" stroke-width="0.9"/>
<line x1="402.60" y1="85.50" x2="405.60" y2="85.50" stroke="#98adc3" stroke-width="0.9"/>
<line x1="402.60" y1="104.10" x2="405.60" y2="104.10" stroke="#98adc3" stroke-width="0.9"/>
<line x1="414.61" y1="99.50" x2="414.61" y2="103.30" stroke="#f59a9c" stroke-width="0.9"/>
<line x1="413.11" y1="99.50" x2="416.11" y2="99.50" stroke="#f59a9c" stroke-width="0.9"/>
<line x1="413.11" y1="103.30" x2="416.11" y2="103.30" stroke="#f59a9c" stroke-width="0.9"/>
<line x1="416.61" y1="93.30" x2="416.61" y2="106.00" stroke="#fac58a" stroke-width="0.9"/>
<line x1="415.11" y1="93.30" x2="418.11" y2="93.30" stroke="#fac58a" stroke-width="0.9"/>
<line x1="415.11" y1="106.00" x2="418.11" y2="106.00" stroke="#fac58a" stroke-width="0.9"/>
<line x1="418.61" y1="86.40" x2="418.61" y2="106.00" stroke="#98adc3" stroke-width="0.9"/>
<line x1="417.11" y1="86.40" x2="420.11" y2="86.40" stroke="#98adc3" stroke-width="0.9"/>
<line x1="417.11" y1="106.00" x2="420.11" y2="106.00" stroke="#98adc3" stroke-width="0.9"/>
<line x1="429.12" y1="97.90" x2="429.12" y2="102.50" stroke="#f59a9c" stroke-width="0.9"/>
<line x1="427.62" y1="97.90" x2="430.62" y2="97.90" stroke="#f59a9c" stroke-width="0.9"/>
<line x1="427.62" y1="102.50" x2="430.62" y2="102.50" stroke="#f59a9c" stroke-width="0.9"/>
<line x1="431.12" y1="91.70" x2="431.12" y2="104.70" stroke="#fac58a" stroke-width="0.9"/>
<line x1="429.62" y1="91.70" x2="432.62" y2="91.70" stroke="#fac58a" stroke-width="0.9"/>
<line x1="429.62" y1="104.70" x2="432.62" y2="104.70" stroke="#fac58a" stroke-width="0.9"/>
<line x1="433.12" y1="86.10" x2="433.12" y2="104.50" stroke="#98adc3" stroke-width="0.9"/>
<line x1="431.62" y1="86.10" x2="434.62" y2="86.10" stroke="#98adc3" stroke-width="0.9"/>
<line x1="431.62" y1="104.50" x2="434.62" y2="104.50" stroke="#98adc3" stroke-width="0.9"/>
<line x1="443.63" y1="98.30" x2="443.63" y2="102.00" stroke="#f59a9c" stroke-width="0.9"/>
<line x1="442.13" y1="98.30" x2="445.13" y2="98.30" stroke="#f59a9c" stroke-width="0.9"/>
<line x1="442.13" y1="102.00" x2="445.13" y2="102.00" stroke="#f59a9c" stroke-width="0.9"/>
<line x1="445.63" y1="93.00" x2="445.63" y2="103.50" stroke="#fac58a" stroke-width="0.9"/>
<line x1="444.13" y1="93.00" x2="447.13" y2="93.00" stroke="#fac58a" stroke-width="0.9"/>
<line x1="444.13" y1="103.50" x2="447.13" y2="103.50" stroke="#fac58a" stroke-width="0.9"/>
<line x1="447.63" y1="88.40" x2="447.63" y2="103.50" stroke="#98adc3" stroke-width="0.9"/>
<line x1="446.13" y1="88.40" x2="449.13" y2="88.40" stroke="#98adc3" stroke-width="0.9"/>
<line x1="446.13" y1="103.50" x2="449.13" y2="103.50" stroke="#98adc3" stroke-width="0.9"/>
<line x1="458.14" y1="98.50" x2="458.14" y2="101.80" stroke="#f59a9c" stroke-width="0.9"/>
<line x1="456.64" y1="98.50" x2="459.64" y2="98.50" stroke="#f59a9c" stroke-width="0.9"/>
<line x1="456.64" y1="101.80" x2="459.64" y2="101.80" stroke="#f59a9c" stroke-width="0.9"/>
<line x1="460.14" y1="92.60" x2="460.14" y2="102.90" stroke="#fac58a" stroke-width="0.9"/>
<line x1="458.64" y1="92.60" x2="461.64" y2="92.60" stroke="#fac58a" stroke-width="0.9"/>
<line x1="458.64" y1="102.90" x2="461.64" y2="102.90" stroke="#fac58a" stroke-width="0.9"/>
<line x1="462.14" y1="90.20" x2="462.14" y2="102.90" stroke="#98adc3" stroke-width="0.9"/>
<line x1="460.64" y1="90.20" x2="463.64" y2="90.20" stroke="#98adc3" stroke-width="0.9"/>
<line x1="460.64" y1="102.90" x2="463.64" y2="102.90" stroke="#98adc3" stroke-width="0.9"/>
<line x1="472.65" y1="98.00" x2="472.65" y2="101.80" stroke="#f59a9c" stroke-width="0.9"/>
<line x1="471.15" y1="98.00" x2="474.15" y2="98.00" stroke="#f59a9c" stroke-width="0.9"/>
<line x1="471.15" y1="101.80" x2="474.15" y2="101.80" stroke="#f59a9c" stroke-width="0.9"/>
<line x1="474.65" y1="92.30" x2="474.65" y2="102.50" stroke="#fac58a" stroke-width="0.9"/>
<line x1="473.15" y1="92.30" x2="476.15" y2="92.30" stroke="#fac58a" stroke-width="0.9"/>
<line x1="473.15" y1="102.50" x2="476.15" y2="102.50" stroke="#fac58a" stroke-width="0.9"/>
<line x1="476.65" y1="92.30" x2="476.65" y2="102.50" stroke="#98adc3" stroke-width="0.9"/>
<line x1="475.15" y1="92.30" x2="478.15" y2="92.30" stroke="#98adc3" stroke-width="0.9"/>
<line x1="475.15" y1="102.50" x2="478.15" y2="102.50" stroke="#98adc3" stroke-width="0.9"/>
<line x1="487.16" y1="96.70" x2="487.16" y2="101.70" stroke="#f59a9c" stroke-width="0.9"/>
<line x1="485.66" y1="96.70" x2="488.66" y2="96.70" stroke="#f59a9c" stroke-width="0.9"/>
<line x1="485.66" y1="101.70" x2="488.66" y2="101.70" stroke="#f59a9c" stroke-width="0.9"/>
<line x1="489.16" y1="91.10" x2="489.16" y2="101.30" stroke="#fac58a" stroke-width="0.9"/>
<line x1="487.66" y1="91.10" x2="490.66" y2="91.10" stroke="#fac58a" stroke-width="0.9"/>
<line x1="487.66" y1="101.30" x2="490.66" y2="101.30" stroke="#fac58a" stroke-width="0.9"/>
<line x1="491.16" y1="93.40" x2="491.16" y2="101.00" stroke="#98adc3" stroke-width="0.9"/>
<line x1="489.66" y1="93.40" x2="492.66" y2="93.40" stroke="#98adc3" stroke-width="0.9"/>
<line x1="489.66" y1="101.00" x2="492.66" y2="101.00" stroke="#98adc3" stroke-width="0.9"/>
<line x1="501.67" y1="98.50" x2="501.67" y2="102.50" stroke="#f59a9c" stroke-width="0.9"/>
<line x1="500.17" y1="98.50" x2="503.17" y2="98.50" stroke="#f59a9c" stroke-width="0.9"/>
<line x1="500.17" y1="102.50" x2="503.17" y2="102.50" stroke="#f59a9c" stroke-width="0.9"/>
<line x1="503.67" y1="97.30" x2="503.67" y2="103.50" stroke="#fac58a" stroke-width="0.9"/>
<line x1="502.17" y1="97.30" x2="505.17" y2="97.30" stroke="#fac58a" stroke-width="0.9"/>
<line x1="502.17" y1="103.50" x2="505.17" y2="103.50" stroke="#fac58a" stroke-width="0.9"/>
<line x1="505.67" y1="97.30" x2="505.67" y2="104.50" stroke="#98adc3" stroke-width="0.9"/>
<line x1="504.17" y1="97.30" x2="507.17" y2="97.30" stroke="#98adc3" stroke-width="0.9"/>
<line x1="504.17" y1="104.50" x2="507.17" y2="104.50" stroke="#98adc3" stroke-width="0.9"/>
<line x1="516.18" y1="98.50" x2="516.18" y2="102.00" stroke="#f59a9c" stroke-width="0.9"/>
<line x1="514.68" y1="98.50" x2="517.68" y2="98.50" stroke="#f59a9c" stroke-width="0.9"/>
<line x1="514.68" y1="102.00" x2="517.68" y2="102.00" stroke="#f59a9c" stroke-width="0.9"/>
<line x1="518.18" y1="97.60" x2="518.18" y2="102.90" stroke="#fac58a" stroke-width="0.9"/>
<line x1="516.68" y1="97.60" x2="519.68" y2="97.60" stroke="#fac58a" stroke-width="0.9"/>
<line x1="516.68" y1="102.90" x2="519.68" y2="102.90" stroke="#fac58a" stroke-width="0.9"/>
<line x1="520.18" y1="97.60" x2="520.18" y2="103.30" stroke="#98adc3" stroke-width="0.9"/>
<line x1="518.68" y1="97.60" x2="521.68" y2="97.60" stroke="#98adc3" stroke-width="0.9"/>
<line x1="518.68" y1="103.30" x2="521.68" y2="103.30" stroke="#98adc3" stroke-width="0.9"/>
<line x1="530.69" y1="99.00" x2="530.69" y2="101.80" stroke="#f59a9c" stroke-width="0.9"/>
<line x1="529.19" y1="99.00" x2="532.19" y2="99.00" stroke="#f59a9c" stroke-width="0.9"/>
<line x1="529.19" y1="101.80" x2="532.19" y2="101.80" stroke="#f59a9c" stroke-width="0.9"/>
<line x1="532.69" y1="98.30" x2="532.69" y2="102.90" stroke="#fac58a" stroke-width="0.9"/>
<line x1="531.19" y1="98.30" x2="534.19" y2="98.30" stroke="#fac58a" stroke-width="0.9"/>
<line x1="531.19" y1="102.90" x2="534.19" y2="102.90" stroke="#fac58a" stroke-width="0.9"/>
<line x1="534.69" y1="98.30" x2="534.69" y2="102.90" stroke="#98adc3" stroke-width="0.9"/>
<line x1="533.19" y1="98.30" x2="536.19" y2="98.30" stroke="#98adc3" stroke-width="0.9"/>
<line x1="533.19" y1="102.90" x2="536.19" y2="102.90" stroke="#98adc3" stroke-width="0.9"/>
<line x1="559.71" y1="93.50" x2="559.71" y2="102.40" stroke="#f59a9c" stroke-width="0.9"/>
<line x1="558.21" y1="93.50" x2="561.21" y2="93.50" stroke="#f59a9c" stroke-width="0.9"/>
<line x1="558.21" y1="102.40" x2="561.21" y2="102.40" stroke="#f59a9c" stroke-width="0.9"/>
<line x1="561.71" y1="93.50" x2="561.71" y2="101.90" stroke="#fac58a" stroke-width="0.9"/>
<line x1="560.21" y1="93.50" x2="563.21" y2="93.50" stroke="#fac58a" stroke-width="0.9"/>
<line x1="560.21" y1="101.90" x2="563.21" y2="101.90" stroke="#fac58a" stroke-width="0.9"/>
<line x1="563.71" y1="93.20" x2="563.71" y2="102.40" stroke="#98adc3" stroke-width="0.9"/>
<line x1="562.21" y1="93.20" x2="565.21" y2="93.20" stroke="#98adc3" stroke-width="0.9"/>
<line x1="562.21" y1="102.40" x2="565.21" y2="102.40" stroke="#98adc3" stroke-width="0.9"/>
<line x1="574.22" y1="90.40" x2="574.22" y2="104.00" stroke="#f59a9c" stroke-width="0.9"/>
<line x1="572.72" y1="90.40" x2="575.72" y2="90.40" stroke="#f59a9c" stroke-width="0.9"/>
<line x1="572.72" y1="104.00" x2="575.72" y2="104.00" stroke="#f59a9c" stroke-width="0.9"/>
<line x1="576.22" y1="89.10" x2="576.22" y2="104.40" stroke="#fac58a" stroke-width="0.9"/>
<line x1="574.72" y1="89.10" x2="577.72" y2="89.10" stroke="#fac58a" stroke-width="0.9"/>
<line x1="574.72" y1="104.40" x2="577.72" y2="104.40" stroke="#fac58a" stroke-width="0.9"/>
<line x1="578.22" y1="87.50" x2="578.22" y2="104.00" stroke="#98adc3" stroke-width="0.9"/>
<line x1="576.72" y1="87.50" x2="579.72" y2="87.50" stroke="#98adc3" stroke-width="0.9"/>
<line x1="576.72" y1="104.00" x2="579.72" y2="104.00" stroke="#98adc3" stroke-width="0.9"/>
<line x1="588.73" y1="87.50" x2="588.73" y2="106.50" stroke="#f59a9c" stroke-width="0.9"/>
<line x1="587.23" y1="87.50" x2="590.23" y2="87.50" stroke="#f59a9c" stroke-width="0.9"/>
<line x1="587.23" y1="106.50" x2="590.23" y2="106.50" stroke="#f59a9c" stroke-width="0.9"/>
<line x1="590.73" y1="85.00" x2="590.73" y2="106.90" stroke="#fac58a" stroke-width="0.9"/>
<line x1="589.23" y1="85.00" x2="592.23" y2="85.00" stroke="#fac58a" stroke-width="0.9"/>
<line x1="589.23" y1="106.90" x2="592.23" y2="106.90" stroke="#fac58a" stroke-width="0.9"/>
<line x1="592.73" y1="81.40" x2="592.73" y2="107.40" stroke="#98adc3" stroke-width="0.9"/>
<line x1="591.23" y1="81.40" x2="594.23" y2="81.40" stroke="#98adc3" stroke-width="0.9"/>
<line x1="591.23" y1="107.40" x2="594.23" y2="107.40" stroke="#98adc3" stroke-width="0.9"/>
<line x1="603.24" y1="88.30" x2="603.24" y2="110.60" stroke="#f59a9c" stroke-width="0.9"/>
<line x1="601.74" y1="88.30" x2="604.74" y2="88.30" stroke="#f59a9c" stroke-width="0.9"/>
<line x1="601.74" y1="110.60" x2="604.74" y2="110.60" stroke="#f59a9c" stroke-width="0.9"/>
<line x1="605.24" y1="86.40" x2="605.24" y2="110.60" stroke="#fac58a" stroke-width="0.9"/>
<line x1="603.74" y1="86.40" x2="606.74" y2="86.40" stroke="#fac58a" stroke-width="0.9"/>
<line x1="603.74" y1="110.60" x2="606.74" y2="110.60" stroke="#fac58a" stroke-width="0.9"/>
<line x1="607.24" y1="81.30" x2="607.24" y2="110.50" stroke="#98adc3" stroke-width="0.9"/>
<line x1="605.74" y1="81.30" x2="608.74" y2="81.30" stroke="#98adc3" stroke-width="0.9"/>
<line x1="605.74" y1="110.50" x2="608.74" y2="110.50" stroke="#98adc3" stroke-width="0.9"/>
<line x1="617.75" y1="90.60" x2="617.75" y2="114.80" stroke="#f59a9c" stroke-width="0.9"/>
<line x1="616.25" y1="90.60" x2="619.25" y2="90.60" stroke="#f59a9c" stroke-width="0.9"/>
<line x1="616.25" y1="114.80" x2="619.25" y2="114.80" stroke="#f59a9c" stroke-width="0.9"/>
<line x1="619.75" y1="92.00" x2="619.75" y2="112.70" stroke="#fac58a" stroke-width="0.9"/>
<line x1="618.25" y1="92.00" x2="621.25" y2="92.00" stroke="#fac58a" stroke-width="0.9"/>
<line x1="618.25" y1="112.70" x2="621.25" y2="112.70" stroke="#fac58a" stroke-width="0.9"/>
<line x1="621.75" y1="84.40" x2="621.75" y2="114.30" stroke="#98adc3" stroke-width="0.9"/>
<line x1="620.25" y1="84.40" x2="623.25" y2="84.40" stroke="#98adc3" stroke-width="0.9"/>
<line x1="620.25" y1="114.30" x2="623.25" y2="114.30" stroke="#98adc3" stroke-width="0.9"/>
<line x1="632.26" y1="73.80" x2="632.26" y2="111.40" stroke="#f59a9c" stroke-width="0.9"/>
<line x1="630.76" y1="73.80" x2="633.76" y2="73.80" stroke="#f59a9c" stroke-width="0.9"/>
<line x1="630.76" y1="111.40" x2="633.76" y2="111.40" stroke="#f59a9c" stroke-width="0.9"/>
<line x1="634.26" y1="87.40" x2="634.26" y2="108.80" stroke="#fac58a" stroke-width="0.9"/>
<line x1="632.76" y1="87.40" x2="635.76" y2="87.40" stroke="#fac58a" stroke-width="0.9"/>
<line x1="632.76" y1="108.80" x2="635.76" y2="108.80" stroke="#fac58a" stroke-width="0.9"/>
<line x1="636.26" y1="81.20" x2="636.26" y2="108.80" stroke="#98adc3" stroke-width="0.9"/>
<line x1="634.76" y1="81.20" x2="637.76" y2="81.20" stroke="#98adc3" stroke-width="0.9"/>
<line x1="634.76" y1="108.80" x2="637.76" y2="108.80" stroke="#98adc3" stroke-width="0.9"/>
<line x1="646.77" y1="55.30" x2="646.77" y2="119.70" stroke="#f59a9c" stroke-width="0.9"/>
<line x1="645.27" y1="55.30" x2="648.27" y2="55.30" stroke="#f59a9c" stroke-width="0.9"/>
<line x1="645.27" y1="119.70" x2="648.27" y2="119.70" stroke="#f59a9c" stroke-width="0.9"/>
<line x1="648.77" y1="73.40" x2="648.77" y2="114.90" stroke="#fac58a" stroke-width="0.9"/>
<line x1="647.27" y1="73.40" x2="650.27" y2="73.40" stroke="#fac58a" stroke-width="0.9"/>
<line x1="647.27" y1="114.90" x2="650.27" y2="114.90" stroke="#fac58a" stroke-width="0.9"/>
<line x1="650.77" y1="65.20" x2="650.77" y2="114.90" stroke="#98adc3" stroke-width="0.9"/>
<line x1="649.27" y1="65.20" x2="652.27" y2="65.20" stroke="#98adc3" stroke-width="0.9"/>
<line x1="649.27" y1="114.90" x2="652.27" y2="114.90" stroke="#98adc3" stroke-width="0.9"/>
<line x1="661.28" y1="28.60" x2="661.28" y2="132.40" stroke="#f59a9c" stroke-width="0.9"/>
<line x1="659.78" y1="28.60" x2="662.78" y2="28.60" stroke="#f59a9c" stroke-width="0.9"/>
<line x1="659.78" y1="132.40" x2="662.78" y2="132.40" stroke="#f59a9c" stroke-width="0.9"/>
<line x1="663.28" y1="62.10" x2="663.28" y2="121.10" stroke="#fac58a" stroke-width="0.9"/>
<line x1="661.78" y1="62.10" x2="664.78" y2="62.10" stroke="#fac58a" stroke-width="0.9"/>
<line x1="661.78" y1="121.10" x2="664.78" y2="121.10" stroke="#fac58a" stroke-width="0.9"/>
<line x1="665.28" y1="53.30" x2="665.28" y2="122.30" stroke="#98adc3" stroke-width="0.9"/>
<line x1="663.78" y1="53.30" x2="666.78" y2="53.30" stroke="#98adc3" stroke-width="0.9"/>
<line x1="663.78" y1="122.30" x2="666.78" y2="122.30" stroke="#98adc3" stroke-width="0.9"/>
<line x1="675.79" y1="36.40" x2="675.79" y2="128.90" stroke="#f59a9c" stroke-width="0.9"/>
<line x1="674.29" y1="36.40" x2="677.29" y2="36.40" stroke="#f59a9c" stroke-width="0.9"/>
<line x1="674.29" y1="128.90" x2="677.29" y2="128.90" stroke="#f59a9c" stroke-width="0.9"/>
<line x1="677.79" y1="92.90" x2="677.79" y2="116.60" stroke="#fac58a" stroke-width="0.9"/>
<line x1="676.29" y1="92.90" x2="679.29" y2="92.90" stroke="#fac58a" stroke-width="0.9"/>
<line x1="676.29" y1="116.60" x2="679.29" y2="116.60" stroke="#fac58a" stroke-width="0.9"/>
<line x1="679.79" y1="83.70" x2="679.79" y2="116.00" stroke="#98adc3" stroke-width="0.9"/>
<line x1="678.29" y1="83.70" x2="681.29" y2="83.70" stroke="#98adc3" stroke-width="0.9"/>
<line x1="678.29" y1="116.00" x2="681.29" y2="116.00" stroke="#98adc3" stroke-width="0.9"/>
<circle cx="400.10" cy="99.80" r="1.75" fill="#f0080c"/>
<circle cx="402.10" cy="98.80" r="1.75" fill="#f7921e"/>
<circle cx="404.10" cy="94.60" r="1.75" fill="#1d4a78"/>
<circle cx="414.61" cy="101.30" r="1.75" fill="#f0080c"/>
<circle cx="416.61" cy="99.80" r="1.75" fill="#f7921e"/>
<circle cx="418.61" cy="96.10" r="1.75" fill="#1d4a78"/>
<circle cx="429.12" cy="100.10" r="1.75" fill="#f0080c"/>
<circle cx="431.12" cy="98.30" r="1.75" fill="#f7921e"/>
<circle cx="433.12" cy="95.40" r="1.75" fill="#1d4a78"/>
<circle cx="443.63" cy="100.10" r="1.75" fill="#f0080c"/>
<circle cx="445.63" cy="98.30" r="1.75" fill="#f7921e"/>
<circle cx="447.63" cy="96.10" r="1.75" fill="#1d4a78"/>
<circle cx="458.14" cy="100.10" r="1.75" fill="#f0080c"/>
<circle cx="460.14" cy="97.70" r="1.75" fill="#f7921e"/>
<circle cx="462.14" cy="96.40" r="1.75" fill="#1d4a78"/>
<circle cx="472.65" cy="99.80" r="1.75" fill="#f0080c"/>
<circle cx="474.65" cy="97.50" r="1.75" fill="#f7921e"/>
<circle cx="476.65" cy="97.00" r="1.75" fill="#1d4a78"/>
<circle cx="487.16" cy="99.40" r="1.75" fill="#f0080c"/>
<circle cx="489.16" cy="96.10" r="1.75" fill="#f7921e"/>
<circle cx="491.16" cy="97.10" r="1.75" fill="#1d4a78"/>
<circle cx="501.67" cy="100.40" r="1.75" fill="#f0080c"/>
<circle cx="503.67" cy="100.40" r="1.75" fill="#f7921e"/>
<circle cx="505.67" cy="100.80" r="1.75" fill="#1d4a78"/>
<circle cx="516.18" cy="100.20" r="1.75" fill="#f0080c"/>
<circle cx="518.18" cy="100.20" r="1.75" fill="#f7921e"/>
<circle cx="520.18" cy="100.40" r="1.75" fill="#1d4a78"/>
<circle cx="530.69" cy="100.40" r="1.75" fill="#f0080c"/>
<circle cx="532.69" cy="100.40" r="1.75" fill="#f7921e"/>
<circle cx="534.69" cy="100.80" r="1.75" fill="#1d4a78"/>
<circle cx="559.71" cy="98.20" r="1.75" fill="#f0080c"/>
<circle cx="561.71" cy="97.80" r="1.75" fill="#f7921e"/>
<circle cx="563.71" cy="97.80" r="1.75" fill="#1d4a78"/>
<circle cx="574.22" cy="97.40" r="1.75" fill="#f0080c"/>
<circle cx="576.22" cy="96.60" r="1.75" fill="#f7921e"/>
<circle cx="578.22" cy="95.70" r="1.75" fill="#1d4a78"/>
<circle cx="588.73" cy="97.40" r="1.75" fill="#f0080c"/>
<circle cx="590.73" cy="95.90" r="1.75" fill="#f7921e"/>
<circle cx="592.73" cy="94.50" r="1.75" fill="#1d4a78"/>
<circle cx="603.24" cy="99.40" r="1.75" fill="#f0080c"/>
<circle cx="605.24" cy="98.40" r="1.75" fill="#f7921e"/>
<circle cx="607.24" cy="95.90" r="1.75" fill="#1d4a78"/>
<circle cx="617.75" cy="102.80" r="1.75" fill="#f0080c"/>
<circle cx="619.75" cy="102.50" r="1.75" fill="#f7921e"/>
<circle cx="621.75" cy="99.00" r="1.75" fill="#1d4a78"/>
<circle cx="632.26" cy="92.50" r="1.75" fill="#f0080c"/>
<circle cx="634.26" cy="98.10" r="1.75" fill="#f7921e"/>
<circle cx="636.26" cy="95.00" r="1.75" fill="#1d4a78"/>
<circle cx="646.77" cy="87.40" r="1.75" fill="#f0080c"/>
<circle cx="648.77" cy="94.00" r="1.75" fill="#f7921e"/>
<circle cx="650.77" cy="90.30" r="1.75" fill="#1d4a78"/>
<circle cx="661.28" cy="80.60" r="1.75" fill="#f0080c"/>
<circle cx="663.28" cy="91.50" r="1.75" fill="#f7921e"/>
<circle cx="665.28" cy="87.80" r="1.75" fill="#1d4a78"/>
<circle cx="675.79" cy="82.70" r="1.75" fill="#f0080c"/>
<circle cx="677.79" cy="104.90" r="1.75" fill="#f7921e"/>
<circle cx="679.79" cy="99.10" r="1.75" fill="#1d4a78"/>
<text x="346.00" y="196.00" font-size="13.0" text-anchor="start" fill="#000" font-weight="bold">d</text>
<text x="394.70" y="196.60" font-size="8.3" text-anchor="start" fill="#222" textLength="183.0" lengthAdjust="spacingAndGlyphs">AMR-associated deaths event-study estimates</text>
<line x1="396.20" y1="201.70" x2="396.20" y2="337.80" stroke="#666666" stroke-width="0.9"/>
<line x1="396.20" y1="337.80" x2="681.00" y2="337.80" stroke="#666666" stroke-width="0.9"/>
<line x1="393.20" y1="205.60" x2="396.20" y2="205.60" stroke="#666666" stroke-width="0.8"/>
<text x="390.20" y="208.20" font-size="7.8" text-anchor="end" fill="#2a2a2a" textLength="20.1" lengthAdjust="spacingAndGlyphs">5,000</text>
<line x1="393.20" y1="231.10" x2="396.20" y2="231.10" stroke="#666666" stroke-width="0.8"/>
<text x="390.20" y="233.70" font-size="7.8" text-anchor="end" fill="#2a2a2a">0</text>
<line x1="393.20" y1="256.60" x2="396.20" y2="256.60" stroke="#666666" stroke-width="0.8"/>
<text x="390.20" y="259.20" font-size="7.8" text-anchor="end" fill="#2a2a2a" textLength="23.9" lengthAdjust="spacingAndGlyphs">−5,000</text>
<line x1="393.20" y1="282.10" x2="396.20" y2="282.10" stroke="#666666" stroke-width="0.8"/>
<text x="390.20" y="284.70" font-size="7.8" text-anchor="end" fill="#2a2a2a" textLength="27.3" lengthAdjust="spacingAndGlyphs">−10,000</text>
<line x1="393.20" y1="307.60" x2="396.20" y2="307.60" stroke="#666666" stroke-width="0.8"/>
<text x="390.20" y="310.20" font-size="7.8" text-anchor="end" fill="#2a2a2a" textLength="27.3" lengthAdjust="spacingAndGlyphs">−15,000</text>
<line x1="393.20" y1="333.10" x2="396.20" y2="333.10" stroke="#666666" stroke-width="0.8"/>
<text x="390.20" y="335.70" font-size="7.8" text-anchor="end" fill="#2a2a2a" textLength="28.45" lengthAdjust="spacingAndGlyphs">−20,000</text>
<line x1="405.50" y1="337.80" x2="405.50" y2="340.80" stroke="#666666" stroke-width="0.8"/>
<text x="405.50" y="349.30" font-size="7.8" text-anchor="middle" fill="#2a2a2a" textLength="14.6" lengthAdjust="spacingAndGlyphs">≤−11</text>
<line x1="419.76" y1="337.80" x2="419.76" y2="340.80" stroke="#666666" stroke-width="0.8"/>
<text x="419.76" y="349.30" font-size="7.8" text-anchor="middle" fill="#2a2a2a" textLength="11.45" lengthAdjust="spacingAndGlyphs">−10</text>
<line x1="434.02" y1="337.80" x2="434.02" y2="340.80" stroke="#666666" stroke-width="0.8"/>
<text x="434.02" y="349.30" font-size="7.8" text-anchor="middle" fill="#2a2a2a" textLength="8.05" lengthAdjust="spacingAndGlyphs">−9</text>
<line x1="448.28" y1="337.80" x2="448.28" y2="340.80" stroke="#666666" stroke-width="0.8"/>
<text x="448.28" y="349.30" font-size="7.8" text-anchor="middle" fill="#2a2a2a" textLength="8.05" lengthAdjust="spacingAndGlyphs">−8</text>
<line x1="462.54" y1="337.80" x2="462.54" y2="340.80" stroke="#666666" stroke-width="0.8"/>
<text x="462.54" y="349.30" font-size="7.8" text-anchor="middle" fill="#2a2a2a" textLength="8.05" lengthAdjust="spacingAndGlyphs">−7</text>
<line x1="476.80" y1="337.80" x2="476.80" y2="340.80" stroke="#666666" stroke-width="0.8"/>
<text x="476.80" y="349.30" font-size="7.8" text-anchor="middle" fill="#2a2a2a" textLength="8.05" lengthAdjust="spacingAndGlyphs">−6</text>
<line x1="491.06" y1="337.80" x2="491.06" y2="340.80" stroke="#666666" stroke-width="0.8"/>
<text x="491.06" y="349.30" font-size="7.8" text-anchor="middle" fill="#2a2a2a" textLength="8.05" lengthAdjust="spacingAndGlyphs">−5</text>
<line x1="505.32" y1="337.80" x2="505.32" y2="340.80" stroke="#666666" stroke-width="0.8"/>
<text x="505.32" y="349.30" font-size="7.8" text-anchor="middle" fill="#2a2a2a" textLength="8.05" lengthAdjust="spacingAndGlyphs">−4</text>
<line x1="519.58" y1="337.80" x2="519.58" y2="340.80" stroke="#666666" stroke-width="0.8"/>
<text x="519.58" y="349.30" font-size="7.8" text-anchor="middle" fill="#2a2a2a" textLength="8.05" lengthAdjust="spacingAndGlyphs">−3</text>
<line x1="533.84" y1="337.80" x2="533.84" y2="340.80" stroke="#666666" stroke-width="0.8"/>
<text x="533.84" y="349.30" font-size="7.8" text-anchor="middle" fill="#2a2a2a" textLength="8.05" lengthAdjust="spacingAndGlyphs">−2</text>
<line x1="548.10" y1="337.80" x2="548.10" y2="340.80" stroke="#666666" stroke-width="0.8"/>
<text x="548.10" y="349.30" font-size="7.8" text-anchor="middle" fill="#2a2a2a" textLength="6.9" lengthAdjust="spacingAndGlyphs">−1</text>
<line x1="562.36" y1="337.80" x2="562.36" y2="340.80" stroke="#666666" stroke-width="0.8"/>
<text x="562.36" y="349.30" font-size="7.8" text-anchor="middle" fill="#2a2a2a">0</text>
<line x1="576.62" y1="337.80" x2="576.62" y2="340.80" stroke="#666666" stroke-width="0.8"/>
<text x="576.62" y="349.30" font-size="7.8" text-anchor="middle" fill="#2a2a2a">1</text>
<line x1="590.88" y1="337.80" x2="590.88" y2="340.80" stroke="#666666" stroke-width="0.8"/>
<text x="590.88" y="349.30" font-size="7.8" text-anchor="middle" fill="#2a2a2a">2</text>
<line x1="605.14" y1="337.80" x2="605.14" y2="340.80" stroke="#666666" stroke-width="0.8"/>
<text x="605.14" y="349.30" font-size="7.8" text-anchor="middle" fill="#2a2a2a">3</text>
<line x1="619.40" y1="337.80" x2="619.40" y2="340.80" stroke="#666666" stroke-width="0.8"/>
<text x="619.40" y="349.30" font-size="7.8" text-anchor="middle" fill="#2a2a2a">4</text>
<line x1="633.66" y1="337.80" x2="633.66" y2="340.80" stroke="#666666" stroke-width="0.8"/>
<text x="633.66" y="349.30" font-size="7.8" text-anchor="middle" fill="#2a2a2a">5</text>
<line x1="647.92" y1="337.80" x2="647.92" y2="340.80" stroke="#666666" stroke-width="0.8"/>
<text x="647.92" y="349.30" font-size="7.8" text-anchor="middle" fill="#2a2a2a">6</text>
<line x1="662.18" y1="337.80" x2="662.18" y2="340.80" stroke="#666666" stroke-width="0.8"/>
<text x="662.18" y="349.30" font-size="7.8" text-anchor="middle" fill="#2a2a2a">7</text>
<line x1="676.44" y1="337.80" x2="676.44" y2="340.80" stroke="#666666" stroke-width="0.8"/>
<text x="676.44" y="349.30" font-size="7.8" text-anchor="middle" fill="#2a2a2a" textLength="8.55" lengthAdjust="spacingAndGlyphs">≥8</text>
<text x="0" y="0" font-size="8.6" fill="#222" text-anchor="middle" textLength="85.8" lengthAdjust="spacingAndGlyphs" transform="translate(353.4,269.5) rotate(-90)">Average causal effect</text>
<text x="538.50" y="362.00" font-size="8.6" text-anchor="middle" fill="#222" textLength="120.4" lengthAdjust="spacingAndGlyphs">Time since NAP launch (years)</text>
<line x1="396.20" y1="231.45" x2="681.00" y2="231.45" stroke="#707070" stroke-width="0.85" stroke-dasharray="4 2.5"/>
<line x1="548.10" y1="201.70" x2="548.10" y2="337.80" stroke="#9a9a9a" stroke-width="0.9" stroke-dasharray="4 2.1"/>
<line x1="400.60" y1="228.30" x2="400.60" y2="233.10" stroke="#f59a9c" stroke-width="0.9"/>
<line x1="399.10" y1="228.30" x2="402.10" y2="228.30" stroke="#f59a9c" stroke-width="0.9"/>
<line x1="399.10" y1="233.10" x2="402.10" y2="233.10" stroke="#f59a9c" stroke-width="0.9"/>
<line x1="402.60" y1="224.60" x2="402.60" y2="234.10" stroke="#fac58a" stroke-width="0.9"/>
<line x1="401.10" y1="224.60" x2="404.10" y2="224.60" stroke="#fac58a" stroke-width="0.9"/>
<line x1="401.10" y1="234.10" x2="404.10" y2="234.10" stroke="#fac58a" stroke-width="0.9"/>
<line x1="404.70" y1="222.40" x2="404.70" y2="234.10" stroke="#98adc3" stroke-width="0.9"/>
<line x1="403.20" y1="222.40" x2="406.20" y2="222.40" stroke="#98adc3" stroke-width="0.9"/>
<line x1="403.20" y1="234.10" x2="406.20" y2="234.10" stroke="#98adc3" stroke-width="0.9"/>
<line x1="414.86" y1="229.50" x2="414.86" y2="233.50" stroke="#f59a9c" stroke-width="0.9"/>
<line x1="413.36" y1="229.50" x2="416.36" y2="229.50" stroke="#f59a9c" stroke-width="0.9"/>
<line x1="413.36" y1="233.50" x2="416.36" y2="233.50" stroke="#f59a9c" stroke-width="0.9"/>
<line x1="416.86" y1="224.30" x2="416.86" y2="233.40" stroke="#fac58a" stroke-width="0.9"/>
<line x1="415.36" y1="224.30" x2="418.36" y2="224.30" stroke="#fac58a" stroke-width="0.9"/>
<line x1="415.36" y1="233.40" x2="418.36" y2="233.40" stroke="#fac58a" stroke-width="0.9"/>
<line x1="418.96" y1="223.20" x2="418.96" y2="234.10" stroke="#98adc3" stroke-width="0.9"/>
<line x1="417.46" y1="223.20" x2="420.46" y2="223.20" stroke="#98adc3" stroke-width="0.9"/>
<line x1="417.46" y1="234.10" x2="420.46" y2="234.10" stroke="#98adc3" stroke-width="0.9"/>
<line x1="429.12" y1="229.00" x2="429.12" y2="233.10" stroke="#f59a9c" stroke-width="0.9"/>
<line x1="427.62" y1="229.00" x2="430.62" y2="229.00" stroke="#f59a9c" stroke-width="0.9"/>
<line x1="427.62" y1="233.10" x2="430.62" y2="233.10" stroke="#f59a9c" stroke-width="0.9"/>
<line x1="431.12" y1="223.90" x2="431.12" y2="234.10" stroke="#fac58a" stroke-width="0.9"/>
<line x1="429.62" y1="223.90" x2="432.62" y2="223.90" stroke="#fac58a" stroke-width="0.9"/>
<line x1="429.62" y1="234.10" x2="432.62" y2="234.10" stroke="#fac58a" stroke-width="0.9"/>
<line x1="433.22" y1="223.20" x2="433.22" y2="234.10" stroke="#98adc3" stroke-width="0.9"/>
<line x1="431.72" y1="223.20" x2="434.72" y2="223.20" stroke="#98adc3" stroke-width="0.9"/>
<line x1="431.72" y1="234.10" x2="434.72" y2="234.10" stroke="#98adc3" stroke-width="0.9"/>
<line x1="443.38" y1="229.50" x2="443.38" y2="233.20" stroke="#f59a9c" stroke-width="0.9"/>
<line x1="441.88" y1="229.50" x2="444.88" y2="229.50" stroke="#f59a9c" stroke-width="0.9"/>
<line x1="441.88" y1="233.20" x2="444.88" y2="233.20" stroke="#f59a9c" stroke-width="0.9"/>
<line x1="445.38" y1="226.00" x2="445.38" y2="233.50" stroke="#fac58a" stroke-width="0.9"/>
<line x1="443.88" y1="226.00" x2="446.88" y2="226.00" stroke="#fac58a" stroke-width="0.9"/>
<line x1="443.88" y1="233.50" x2="446.88" y2="233.50" stroke="#fac58a" stroke-width="0.9"/>
<line x1="447.48" y1="226.00" x2="447.48" y2="233.50" stroke="#98adc3" stroke-width="0.9"/>
<line x1="445.98" y1="226.00" x2="448.98" y2="226.00" stroke="#98adc3" stroke-width="0.9"/>
<line x1="445.98" y1="233.50" x2="448.98" y2="233.50" stroke="#98adc3" stroke-width="0.9"/>
<line x1="457.64" y1="229.50" x2="457.64" y2="233.20" stroke="#f59a9c" stroke-width="0.9"/>
<line x1="456.14" y1="229.50" x2="459.14" y2="229.50" stroke="#f59a9c" stroke-width="0.9"/>
<line x1="456.14" y1="233.20" x2="459.14" y2="233.20" stroke="#f59a9c" stroke-width="0.9"/>
<line x1="459.64" y1="226.50" x2="459.64" y2="233.20" stroke="#fac58a" stroke-width="0.9"/>
<line x1="458.14" y1="226.50" x2="461.14" y2="226.50" stroke="#fac58a" stroke-width="0.9"/>
<line x1="458.14" y1="233.20" x2="461.14" y2="233.20" stroke="#fac58a" stroke-width="0.9"/>
<line x1="461.74" y1="226.50" x2="461.74" y2="233.20" stroke="#98adc3" stroke-width="0.9"/>
<line x1="460.24" y1="226.50" x2="463.24" y2="226.50" stroke="#98adc3" stroke-width="0.9"/>
<line x1="460.24" y1="233.20" x2="463.24" y2="233.20" stroke="#98adc3" stroke-width="0.9"/>
<line x1="471.90" y1="229.50" x2="471.90" y2="233.00" stroke="#f59a9c" stroke-width="0.9"/>
<line x1="470.40" y1="229.50" x2="473.40" y2="229.50" stroke="#f59a9c" stroke-width="0.9"/>
<line x1="470.40" y1="233.00" x2="473.40" y2="233.00" stroke="#f59a9c" stroke-width="0.9"/>
<line x1="473.90" y1="226.80" x2="473.90" y2="232.70" stroke="#fac58a" stroke-width="0.9"/>
<line x1="472.40" y1="226.80" x2="475.40" y2="226.80" stroke="#fac58a" stroke-width="0.9"/>
<line x1="472.40" y1="232.70" x2="475.40" y2="232.70" stroke="#fac58a" stroke-width="0.9"/>
<line x1="476.00" y1="226.80" x2="476.00" y2="232.70" stroke="#98adc3" stroke-width="0.9"/>
<line x1="474.50" y1="226.80" x2="477.50" y2="226.80" stroke="#98adc3" stroke-width="0.9"/>
<line x1="474.50" y1="232.70" x2="477.50" y2="232.70" stroke="#98adc3" stroke-width="0.9"/>
<line x1="486.16" y1="229.00" x2="486.16" y2="232.80" stroke="#f59a9c" stroke-width="0.9"/>
<line x1="484.66" y1="229.00" x2="487.66" y2="229.00" stroke="#f59a9c" stroke-width="0.9"/>
<line x1="484.66" y1="232.80" x2="487.66" y2="232.80" stroke="#f59a9c" stroke-width="0.9"/>
<line x1="488.16" y1="226.00" x2="488.16" y2="232.20" stroke="#fac58a" stroke-width="0.9"/>
<line x1="486.66" y1="226.00" x2="489.66" y2="226.00" stroke="#fac58a" stroke-width="0.9"/>
<line x1="486.66" y1="232.20" x2="489.66" y2="232.20" stroke="#fac58a" stroke-width="0.9"/>
<line x1="490.26" y1="226.00" x2="490.26" y2="232.20" stroke="#98adc3" stroke-width="0.9"/>
<line x1="488.76" y1="226.00" x2="491.76" y2="226.00" stroke="#98adc3" stroke-width="0.9"/>
<line x1="488.76" y1="232.20" x2="491.76" y2="232.20" stroke="#98adc3" stroke-width="0.9"/>
<line x1="500.42" y1="229.00" x2="500.42" y2="232.80" stroke="#f59a9c" stroke-width="0.9"/>
<line x1="498.92" y1="229.00" x2="501.92" y2="229.00" stroke="#f59a9c" stroke-width="0.9"/>
<line x1="498.92" y1="232.80" x2="501.92" y2="232.80" stroke="#f59a9c" stroke-width="0.9"/>
<line x1="502.42" y1="225.10" x2="502.42" y2="231.90" stroke="#fac58a" stroke-width="0.9"/>
<line x1="500.92" y1="225.10" x2="503.92" y2="225.10" stroke="#fac58a" stroke-width="0.9"/>
<line x1="500.92" y1="231.90" x2="503.92" y2="231.90" stroke="#fac58a" stroke-width="0.9"/>
<line x1="504.52" y1="225.10" x2="504.52" y2="231.90" stroke="#98adc3" stroke-width="0.9"/>
<line x1="503.02" y1="225.10" x2="506.02" y2="225.10" stroke="#98adc3" stroke-width="0.9"/>
<line x1="503.02" y1="231.90" x2="506.02" y2="231.90" stroke="#98adc3" stroke-width="0.9"/>
<line x1="514.68" y1="229.50" x2="514.68" y2="233.00" stroke="#f59a9c" stroke-width="0.9"/>
<line x1="513.18" y1="229.50" x2="516.18" y2="229.50" stroke="#f59a9c" stroke-width="0.9"/>
<line x1="513.18" y1="233.00" x2="516.18" y2="233.00" stroke="#f59a9c" stroke-width="0.9"/>
<line x1="516.68" y1="226.00" x2="516.68" y2="232.70" stroke="#fac58a" stroke-width="0.9"/>
<line x1="515.18" y1="226.00" x2="518.18" y2="226.00" stroke="#fac58a" stroke-width="0.9"/>
<line x1="515.18" y1="232.70" x2="518.18" y2="232.70" stroke="#fac58a" stroke-width="0.9"/>
<line x1="518.78" y1="226.00" x2="518.78" y2="232.70" stroke="#98adc3" stroke-width="0.9"/>
<line x1="517.28" y1="226.00" x2="520.28" y2="226.00" stroke="#98adc3" stroke-width="0.9"/>
<line x1="517.28" y1="232.70" x2="520.28" y2="232.70" stroke="#98adc3" stroke-width="0.9"/>
<line x1="528.94" y1="230.50" x2="528.94" y2="233.50" stroke="#f59a9c" stroke-width="0.9"/>
<line x1="527.44" y1="230.50" x2="530.44" y2="230.50" stroke="#f59a9c" stroke-width="0.9"/>
<line x1="527.44" y1="233.50" x2="530.44" y2="233.50" stroke="#f59a9c" stroke-width="0.9"/>
<line x1="530.94" y1="229.30" x2="530.94" y2="231.50" stroke="#fac58a" stroke-width="0.9"/>
<line x1="529.44" y1="229.30" x2="532.44" y2="229.30" stroke="#fac58a" stroke-width="0.9"/>
<line x1="529.44" y1="231.50" x2="532.44" y2="231.50" stroke="#fac58a" stroke-width="0.9"/>
<line x1="533.04" y1="229.30" x2="533.04" y2="231.50" stroke="#98adc3" stroke-width="0.9"/>
<line x1="531.54" y1="229.30" x2="534.54" y2="229.30" stroke="#98adc3" stroke-width="0.9"/>
<line x1="531.54" y1="231.50" x2="534.54" y2="231.50" stroke="#98adc3" stroke-width="0.9"/>
<line x1="557.46" y1="230.00" x2="557.46" y2="234.50" stroke="#f59a9c" stroke-width="0.9"/>
<line x1="555.96" y1="230.00" x2="558.96" y2="230.00" stroke="#f59a9c" stroke-width="0.9"/>
<line x1="555.96" y1="234.50" x2="558.96" y2="234.50" stroke="#f59a9c" stroke-width="0.9"/>
<line x1="559.46" y1="229.30" x2="559.46" y2="234.10" stroke="#fac58a" stroke-width="0.9"/>
<line x1="557.96" y1="229.30" x2="560.96" y2="229.30" stroke="#fac58a" stroke-width="0.9"/>
<line x1="557.96" y1="234.10" x2="560.96" y2="234.10" stroke="#fac58a" stroke-width="0.9"/>
<line x1="561.56" y1="229.30" x2="561.56" y2="234.10" stroke="#98adc3" stroke-width="0.9"/>
<line x1="560.06" y1="229.30" x2="563.06" y2="229.30" stroke="#98adc3" stroke-width="0.9"/>
<line x1="560.06" y1="234.10" x2="563.06" y2="234.10" stroke="#98adc3" stroke-width="0.9"/>
<line x1="571.72" y1="228.50" x2="571.72" y2="236.20" stroke="#f59a9c" stroke-width="0.9"/>
<line x1="570.22" y1="228.50" x2="573.22" y2="228.50" stroke="#f59a9c" stroke-width="0.9"/>
<line x1="570.22" y1="236.20" x2="573.22" y2="236.20" stroke="#f59a9c" stroke-width="0.9"/>
<line x1="573.72" y1="228.00" x2="573.72" y2="236.20" stroke="#fac58a" stroke-width="0.9"/>
<line x1="572.22" y1="228.00" x2="575.22" y2="228.00" stroke="#fac58a" stroke-width="0.9"/>
<line x1="572.22" y1="236.20" x2="575.22" y2="236.20" stroke="#fac58a" stroke-width="0.9"/>
<line x1="575.82" y1="228.00" x2="575.82" y2="236.20" stroke="#98adc3" stroke-width="0.9"/>
<line x1="574.32" y1="228.00" x2="577.32" y2="228.00" stroke="#98adc3" stroke-width="0.9"/>
<line x1="574.32" y1="236.20" x2="577.32" y2="236.20" stroke="#98adc3" stroke-width="0.9"/>
<line x1="585.98" y1="226.50" x2="585.98" y2="237.50" stroke="#f59a9c" stroke-width="0.9"/>
<line x1="584.48" y1="226.50" x2="587.48" y2="226.50" stroke="#f59a9c" stroke-width="0.9"/>
<line x1="584.48" y1="237.50" x2="587.48" y2="237.50" stroke="#f59a9c" stroke-width="0.9"/>
<line x1="587.98" y1="225.90" x2="587.98" y2="237.50" stroke="#fac58a" stroke-width="0.9"/>
<line x1="586.48" y1="225.90" x2="589.48" y2="225.90" stroke="#fac58a" stroke-width="0.9"/>
<line x1="586.48" y1="237.50" x2="589.48" y2="237.50" stroke="#fac58a" stroke-width="0.9"/>
<line x1="590.08" y1="225.90" x2="590.08" y2="237.50" stroke="#98adc3" stroke-width="0.9"/>
<line x1="588.58" y1="225.90" x2="591.58" y2="225.90" stroke="#98adc3" stroke-width="0.9"/>
<line x1="588.58" y1="237.50" x2="591.58" y2="237.50" stroke="#98adc3" stroke-width="0.9"/>
<line x1="600.24" y1="225.90" x2="600.24" y2="243.10" stroke="#f59a9c" stroke-width="0.9"/>
<line x1="598.74" y1="225.90" x2="601.74" y2="225.90" stroke="#f59a9c" stroke-width="0.9"/>
<line x1="598.74" y1="243.10" x2="601.74" y2="243.10" stroke="#f59a9c" stroke-width="0.9"/>
<line x1="602.24" y1="225.90" x2="602.24" y2="240.00" stroke="#fac58a" stroke-width="0.9"/>
<line x1="600.74" y1="225.90" x2="603.74" y2="225.90" stroke="#fac58a" stroke-width="0.9"/>
<line x1="600.74" y1="240.00" x2="603.74" y2="240.00" stroke="#fac58a" stroke-width="0.9"/>
<line x1="604.34" y1="225.40" x2="604.34" y2="240.00" stroke="#98adc3" stroke-width="0.9"/>
<line x1="602.84" y1="225.40" x2="605.84" y2="225.40" stroke="#98adc3" stroke-width="0.9"/>
<line x1="602.84" y1="240.00" x2="605.84" y2="240.00" stroke="#98adc3" stroke-width="0.9"/>
<line x1="614.50" y1="225.90" x2="614.50" y2="251.60" stroke="#f59a9c" stroke-width="0.9"/>
<line x1="613.00" y1="225.90" x2="616.00" y2="225.90" stroke="#f59a9c" stroke-width="0.9"/>
<line x1="613.00" y1="251.60" x2="616.00" y2="251.60" stroke="#f59a9c" stroke-width="0.9"/>
<line x1="616.50" y1="227.20" x2="616.50" y2="247.80" stroke="#fac58a" stroke-width="0.9"/>
<line x1="615.00" y1="227.20" x2="618.00" y2="227.20" stroke="#fac58a" stroke-width="0.9"/>
<line x1="615.00" y1="247.80" x2="618.00" y2="247.80" stroke="#fac58a" stroke-width="0.9"/>
<line x1="618.60" y1="225.40" x2="618.60" y2="248.50" stroke="#98adc3" stroke-width="0.9"/>
<line x1="617.10" y1="225.40" x2="620.10" y2="225.40" stroke="#98adc3" stroke-width="0.9"/>
<line x1="617.10" y1="248.50" x2="620.10" y2="248.50" stroke="#98adc3" stroke-width="0.9"/>
<line x1="628.76" y1="205.90" x2="628.76" y2="252.10" stroke="#f59a9c" stroke-width="0.9"/>
<line x1="627.26" y1="205.90" x2="630.26" y2="205.90" stroke="#f59a9c" stroke-width="0.9"/>
<line x1="627.26" y1="252.10" x2="630.26" y2="252.10" stroke="#f59a9c" stroke-width="0.9"/>
<line x1="630.76" y1="210.50" x2="630.76" y2="251.60" stroke="#fac58a" stroke-width="0.9"/>
<line x1="629.26" y1="210.50" x2="632.26" y2="210.50" stroke="#fac58a" stroke-width="0.9"/>
<line x1="629.26" y1="251.60" x2="632.26" y2="251.60" stroke="#fac58a" stroke-width="0.9"/>
<line x1="632.86" y1="208.50" x2="632.86" y2="250.80" stroke="#98adc3" stroke-width="0.9"/>
<line x1="631.36" y1="208.50" x2="634.36" y2="208.50" stroke="#98adc3" stroke-width="0.9"/>
<line x1="631.36" y1="250.80" x2="634.36" y2="250.80" stroke="#98adc3" stroke-width="0.9"/>
<line x1="643.02" y1="224.10" x2="643.02" y2="256.20" stroke="#f59a9c" stroke-width="0.9"/>
<line x1="641.52" y1="224.10" x2="644.52" y2="224.10" stroke="#f59a9c" stroke-width="0.9"/>
<line x1="641.52" y1="256.20" x2="644.52" y2="256.20" stroke="#f59a9c" stroke-width="0.9"/>
<line x1="645.02" y1="225.40" x2="645.02" y2="252.90" stroke="#fac58a" stroke-width="0.9"/>
<line x1="643.52" y1="225.40" x2="646.52" y2="225.40" stroke="#fac58a" stroke-width="0.9"/>
<line x1="643.52" y1="252.90" x2="646.52" y2="252.90" stroke="#fac58a" stroke-width="0.9"/>
<line x1="647.12" y1="224.10" x2="647.12" y2="252.90" stroke="#98adc3" stroke-width="0.9"/>
<line x1="645.62" y1="224.10" x2="648.62" y2="224.10" stroke="#98adc3" stroke-width="0.9"/>
<line x1="645.62" y1="252.90" x2="648.62" y2="252.90" stroke="#98adc3" stroke-width="0.9"/>
<line x1="657.28" y1="226.70" x2="657.28" y2="268.30" stroke="#f59a9c" stroke-width="0.9"/>
<line x1="655.78" y1="226.70" x2="658.78" y2="226.70" stroke="#f59a9c" stroke-width="0.9"/>
<line x1="655.78" y1="268.30" x2="658.78" y2="268.30" stroke="#f59a9c" stroke-width="0.9"/>
<line x1="659.28" y1="228.00" x2="659.28" y2="259.80" stroke="#fac58a" stroke-width="0.9"/>
<line x1="657.78" y1="228.00" x2="660.78" y2="228.00" stroke="#fac58a" stroke-width="0.9"/>
<line x1="657.78" y1="259.80" x2="660.78" y2="259.80" stroke="#fac58a" stroke-width="0.9"/>
<line x1="661.38" y1="226.40" x2="661.38" y2="259.80" stroke="#98adc3" stroke-width="0.9"/>
<line x1="659.88" y1="226.40" x2="662.88" y2="226.40" stroke="#98adc3" stroke-width="0.9"/>
<line x1="659.88" y1="259.80" x2="662.88" y2="259.80" stroke="#98adc3" stroke-width="0.9"/>
<line x1="671.54" y1="206.20" x2="671.54" y2="333.20" stroke="#f59a9c" stroke-width="0.9"/>
<line x1="670.04" y1="206.20" x2="673.04" y2="206.20" stroke="#f59a9c" stroke-width="0.9"/>
<line x1="670.04" y1="333.20" x2="673.04" y2="333.20" stroke="#f59a9c" stroke-width="0.9"/>
<line x1="673.54" y1="210.50" x2="673.54" y2="322.20" stroke="#fac58a" stroke-width="0.9"/>
<line x1="672.04" y1="210.50" x2="675.04" y2="210.50" stroke="#fac58a" stroke-width="0.9"/>
<line x1="672.04" y1="322.20" x2="675.04" y2="322.20" stroke="#fac58a" stroke-width="0.9"/>
<line x1="675.64" y1="208.00" x2="675.64" y2="323.00" stroke="#98adc3" stroke-width="0.9"/>
<line x1="674.14" y1="208.00" x2="677.14" y2="208.00" stroke="#98adc3" stroke-width="0.9"/>
<line x1="674.14" y1="323.00" x2="677.14" y2="323.00" stroke="#98adc3" stroke-width="0.9"/>
<circle cx="400.60" cy="231.20" r="1.75" fill="#f0080c"/>
<circle cx="402.60" cy="229.30" r="1.75" fill="#f7921e"/>
<circle cx="404.70" cy="228.70" r="1.75" fill="#1d4a78"/>
<circle cx="414.86" cy="231.90" r="1.75" fill="#f0080c"/>
<circle cx="416.86" cy="229.70" r="1.75" fill="#f7921e"/>
<circle cx="418.96" cy="228.70" r="1.75" fill="#1d4a78"/>
<circle cx="429.12" cy="231.20" r="1.75" fill="#f0080c"/>
<circle cx="431.12" cy="229.30" r="1.75" fill="#f7921e"/>
<circle cx="433.22" cy="228.70" r="1.75" fill="#1d4a78"/>
<circle cx="443.38" cy="231.40" r="1.75" fill="#f0080c"/>
<circle cx="445.38" cy="230.20" r="1.75" fill="#f7921e"/>
<circle cx="447.48" cy="229.30" r="1.75" fill="#1d4a78"/>
<circle cx="457.64" cy="231.40" r="1.75" fill="#f0080c"/>
<circle cx="459.64" cy="229.80" r="1.75" fill="#f7921e"/>
<circle cx="461.74" cy="229.30" r="1.75" fill="#1d4a78"/>
<circle cx="471.90" cy="231.40" r="1.75" fill="#f0080c"/>
<circle cx="473.90" cy="229.80" r="1.75" fill="#f7921e"/>
<circle cx="476.00" cy="229.80" r="1.75" fill="#1d4a78"/>
<circle cx="486.16" cy="231.00" r="1.75" fill="#f0080c"/>
<circle cx="488.16" cy="229.30" r="1.75" fill="#f7921e"/>
<circle cx="490.26" cy="229.00" r="1.75" fill="#1d4a78"/>
<circle cx="500.42" cy="231.00" r="1.75" fill="#f0080c"/>
<circle cx="502.42" cy="228.50" r="1.75" fill="#f7921e"/>
<circle cx="504.52" cy="228.50" r="1.75" fill="#1d4a78"/>
<circle cx="514.68" cy="231.40" r="1.75" fill="#f0080c"/>
<circle cx="516.68" cy="229.30" r="1.75" fill="#f7921e"/>
<circle cx="518.78" cy="229.30" r="1.75" fill="#1d4a78"/>
<circle cx="528.94" cy="232.20" r="1.75" fill="#f0080c"/>
<circle cx="530.94" cy="230.50" r="1.75" fill="#f7921e"/>
<circle cx="533.04" cy="230.20" r="1.75" fill="#1d4a78"/>
<circle cx="557.46" cy="232.40" r="1.75" fill="#f0080c"/>
<circle cx="559.46" cy="231.50" r="1.75" fill="#f7921e"/>
<circle cx="561.56" cy="231.10" r="1.75" fill="#1d4a78"/>
<circle cx="571.72" cy="232.40" r="1.75" fill="#f0080c"/>
<circle cx="573.72" cy="231.50" r="1.75" fill="#f7921e"/>
<circle cx="575.82" cy="231.10" r="1.75" fill="#1d4a78"/>
<circle cx="585.98" cy="232.90" r="1.75" fill="#f0080c"/>
<circle cx="587.98" cy="231.00" r="1.75" fill="#f7921e"/>
<circle cx="590.08" cy="231.10" r="1.75" fill="#1d4a78"/>
<circle cx="600.24" cy="234.90" r="1.75" fill="#f0080c"/>
<circle cx="602.24" cy="233.10" r="1.75" fill="#f7921e"/>
<circle cx="604.34" cy="233.10" r="1.75" fill="#1d4a78"/>
<circle cx="614.50" cy="239.30" r="1.75" fill="#f0080c"/>
<circle cx="616.50" cy="237.50" r="1.75" fill="#f7921e"/>
<circle cx="618.60" cy="237.00" r="1.75" fill="#1d4a78"/>
<circle cx="628.76" cy="229.00" r="1.75" fill="#f0080c"/>
<circle cx="630.76" cy="230.30" r="1.75" fill="#f7921e"/>
<circle cx="632.86" cy="229.80" r="1.75" fill="#1d4a78"/>
<circle cx="643.02" cy="240.80" r="1.75" fill="#f0080c"/>
<circle cx="645.02" cy="239.30" r="1.75" fill="#f7921e"/>
<circle cx="647.12" cy="238.30" r="1.75" fill="#1d4a78"/>
<circle cx="657.28" cy="247.80" r="1.75" fill="#f0080c"/>
<circle cx="659.28" cy="244.40" r="1.75" fill="#f7921e"/>
<circle cx="661.38" cy="243.10" r="1.75" fill="#1d4a78"/>
<circle cx="671.54" cy="270.10" r="1.75" fill="#f0080c"/>
<circle cx="673.54" cy="266.50" r="1.75" fill="#f7921e"/>
<circle cx="675.64" cy="265.70" r="1.75" fill="#1d4a78"/>
<circle cx="249.6" cy="374.8" r="2.6" fill="#f0080c"/>
<text x="256.10" y="378.10" font-size="7.8" text-anchor="start" fill="#222" textLength="48.4" lengthAdjust="spacingAndGlyphs">Two-stage DID</text>
<circle cx="318.8" cy="374.8" r="2.6" fill="#f7921e"/>
<text x="324.40" y="378.10" font-size="7.8" text-anchor="start" fill="#222" textLength="82.9" lengthAdjust="spacingAndGlyphs">Stacked event-study DID</text>
<circle cx="421.0" cy="374.8" r="2.6" fill="#1d4a78"/>
<text x="427.40" y="378.10" font-size="7.8" text-anchor="start" fill="#222" textLength="34.2" lengthAdjust="spacingAndGlyphs">TWFE OLS</text>
<text x="-0.20" y="398.30" font-size="13.4" text-anchor="start" fill="#000" font-weight="bold">e</text>
<line x1="30.50" y1="414.10" x2="409.20" y2="414.10" stroke="#dadada" stroke-width="0.6" stroke-dasharray="1.2 0.8"/>
<line x1="30.50" y1="438.56" x2="409.20" y2="438.56" stroke="#dadada" stroke-width="0.6" stroke-dasharray="1.2 0.8"/>
<line x1="30.50" y1="463.03" x2="409.20" y2="463.03" stroke="#dadada" stroke-width="0.6" stroke-dasharray="1.2 0.8"/>
<line x1="30.50" y1="487.50" x2="409.20" y2="487.50" stroke="#dadada" stroke-width="0.6" stroke-dasharray="1.2 0.8"/>
<line x1="30.50" y1="511.96" x2="409.20" y2="511.96" stroke="#dadada" stroke-width="0.6" stroke-dasharray="1.2 0.8"/>
<line x1="30.50" y1="536.42" x2="409.20" y2="536.42" stroke="#dadada" stroke-width="0.6" stroke-dasharray="1.2 0.8"/>
<line x1="162.30" y1="404.20" x2="162.30" y2="561.50" stroke="#dadada" stroke-width="0.6" stroke-dasharray="1.2 0.8"/>
<line x1="228.10" y1="404.20" x2="228.10" y2="561.50" stroke="#dadada" stroke-width="0.6" stroke-dasharray="1.2 0.8"/>
<line x1="261.00" y1="404.20" x2="261.00" y2="561.50" stroke="#dadada" stroke-width="0.6" stroke-dasharray="1.2 0.8"/>
<line x1="392.60" y1="404.20" x2="392.60" y2="561.50" stroke="#dadada" stroke-width="0.6" stroke-dasharray="1.2 0.8"/>
<line x1="28.50" y1="561.90" x2="409.20" y2="561.90" stroke="#cfcfcf" stroke-width="1.5"/>
<line x1="30.50" y1="404.20" x2="409.20" y2="404.20" stroke="#707070" stroke-width="0.9"/>
<line x1="30.50" y1="404.20" x2="30.50" y2="561.50" stroke="#707070" stroke-width="0.9"/>
<line x1="409.20" y1="404.20" x2="409.20" y2="561.50" stroke="#707070" stroke-width="0.9"/>
<line x1="27.50" y1="414.10" x2="30.50" y2="414.10" stroke="#666" stroke-width="0.8"/>
<text x="24.60" y="416.70" font-size="7.8" text-anchor="end" fill="#2a2a2a" textLength="8.8" lengthAdjust="spacingAndGlyphs">76</text>
<line x1="27.50" y1="438.56" x2="30.50" y2="438.56" stroke="#666" stroke-width="0.8"/>
<text x="24.60" y="441.17" font-size="7.8" text-anchor="end" fill="#2a2a2a" textLength="7.65" lengthAdjust="spacingAndGlyphs">71</text>
<line x1="27.50" y1="463.03" x2="30.50" y2="463.03" stroke="#666" stroke-width="0.8"/>
<text x="24.60" y="465.63" font-size="7.8" text-anchor="end" fill="#2a2a2a" textLength="8.8" lengthAdjust="spacingAndGlyphs">66</text>
<line x1="27.50" y1="487.50" x2="30.50" y2="487.50" stroke="#666" stroke-width="0.8"/>
<text x="24.60" y="490.10" font-size="7.8" text-anchor="end" fill="#2a2a2a" textLength="7.65" lengthAdjust="spacingAndGlyphs">61</text>
<line x1="27.50" y1="511.96" x2="30.50" y2="511.96" stroke="#666" stroke-width="0.8"/>
<text x="24.60" y="514.56" font-size="7.8" text-anchor="end" fill="#2a2a2a" textLength="8.8" lengthAdjust="spacingAndGlyphs">56</text>
<line x1="27.50" y1="536.42" x2="30.50" y2="536.42" stroke="#666" stroke-width="0.8"/>
<text x="24.60" y="539.02" font-size="7.8" text-anchor="end" fill="#2a2a2a" textLength="7.65" lengthAdjust="spacingAndGlyphs">51</text>
<line x1="27.50" y1="560.89" x2="30.50" y2="560.89" stroke="#666" stroke-width="0.8"/>
<text x="24.60" y="563.49" font-size="7.8" text-anchor="end" fill="#2a2a2a" textLength="8.8" lengthAdjust="spacingAndGlyphs">46</text>
<text x="30.70" y="571.10" font-size="7.8" text-anchor="middle" fill="#2a2a2a" textLength="16.75" lengthAdjust="spacingAndGlyphs">1999</text>
<text x="63.60" y="571.10" font-size="7.8" text-anchor="middle" fill="#2a2a2a" textLength="16.75" lengthAdjust="spacingAndGlyphs">2001</text>
<text x="96.50" y="571.10" font-size="7.8" text-anchor="middle" fill="#2a2a2a" textLength="17.9" lengthAdjust="spacingAndGlyphs">2003</text>
<text x="129.40" y="571.10" font-size="7.8" text-anchor="middle" fill="#2a2a2a" textLength="17.9" lengthAdjust="spacingAndGlyphs">2005</text>
<text x="162.30" y="571.10" font-size="7.8" text-anchor="middle" fill="#2a2a2a" textLength="17.9" lengthAdjust="spacingAndGlyphs">2007</text>
<text x="195.20" y="571.10" font-size="7.8" text-anchor="middle" fill="#2a2a2a" textLength="17.9" lengthAdjust="spacingAndGlyphs">2009</text>
<text x="228.10" y="571.10" font-size="7.8" text-anchor="middle" fill="#2a2a2a" textLength="15.6" lengthAdjust="spacingAndGlyphs">2011</text>
<text x="261.00" y="571.10" font-size="7.8" text-anchor="middle" fill="#2a2a2a" textLength="16.75" lengthAdjust="spacingAndGlyphs">2013</text>
<text x="293.90" y="571.10" font-size="7.8" text-anchor="middle" fill="#2a2a2a" textLength="16.75" lengthAdjust="spacingAndGlyphs">2015</text>
<text x="326.80" y="571.10" font-size="7.8" text-anchor="middle" fill="#2a2a2a" textLength="16.75" lengthAdjust="spacingAndGlyphs">2017</text>
<text x="359.70" y="571.10" font-size="7.8" text-anchor="middle" fill="#2a2a2a" textLength="16.75" lengthAdjust="spacingAndGlyphs">2019</text>
<text x="392.60" y="571.10" font-size="7.8" text-anchor="middle" fill="#2a2a2a" textLength="16.75" lengthAdjust="spacingAndGlyphs">2021</text>
<text x="0" y="0" font-size="8.6" fill="#222" text-anchor="middle" textLength="124.5" lengthAdjust="spacingAndGlyphs" transform="translate(6.9,483.8) rotate(-90)">Average AMR prevalence score</text>
<text x="220.40" y="583.60" font-size="8.3" text-anchor="middle" fill="#222">Year</text>
<polyline points="47.15,408.30 63.60,410.90 80.05,414.60 96.50,417.50 112.95,420.10 129.40,422.30 145.85,424.40 162.30,427.00 178.75,429.60 195.20,433.10 211.65,437.20 228.10,439.40 244.55,444.10 261.00,447.40 277.45,451.40 293.90,458.40 310.35,462.30 326.80,465.40 343.25,468.10 359.70,471.70 376.15,472.40 392.60,474.10" fill="none" stroke="#3cb371" stroke-width="1.45" stroke-linejoin="round"/>
<circle cx="47.15" cy="408.30" r="1.95" fill="#3cb371"/>
<circle cx="63.60" cy="410.90" r="1.95" fill="#3cb371"/>
<circle cx="80.05" cy="414.60" r="1.95" fill="#3cb371"/>
<circle cx="96.50" cy="417.50" r="1.95" fill="#3cb371"/>
<circle cx="112.95" cy="420.10" r="1.95" fill="#3cb371"/>
<circle cx="129.40" cy="422.30" r="1.95" fill="#3cb371"/>
<circle cx="145.85" cy="424.40" r="1.95" fill="#3cb371"/>
<circle cx="162.30" cy="427.00" r="1.95" fill="#3cb371"/>
<circle cx="178.75" cy="429.60" r="1.95" fill="#3cb371"/>
<circle cx="195.20" cy="433.10" r="1.95" fill="#3cb371"/>
<circle cx="211.65" cy="437.20" r="1.95" fill="#3cb371"/>
<circle cx="228.10" cy="439.40" r="1.95" fill="#3cb371"/>
<circle cx="244.55" cy="444.10" r="1.95" fill="#3cb371"/>
<circle cx="261.00" cy="447.40" r="1.95" fill="#3cb371"/>
<circle cx="277.45" cy="451.40" r="1.95" fill="#3cb371"/>
<circle cx="293.90" cy="458.40" r="1.95" fill="#3cb371"/>
<circle cx="310.35" cy="462.30" r="1.95" fill="#3cb371"/>
<circle cx="326.80" cy="465.40" r="1.95" fill="#3cb371"/>
<circle cx="343.25" cy="468.10" r="1.95" fill="#3cb371"/>
<circle cx="359.70" cy="471.70" r="1.95" fill="#3cb371"/>
<circle cx="376.15" cy="472.40" r="1.95" fill="#3cb371"/>
<circle cx="392.60" cy="474.10" r="1.95" fill="#3cb371"/>
<polyline points="47.15,439.00 63.60,440.10 80.05,442.60 96.50,445.00 112.95,447.00 129.40,449.80 145.85,454.70 162.30,460.70 178.75,465.30 195.20,470.00 211.65,474.30 228.10,479.30 244.55,482.20 261.00,484.20 277.45,487.80 293.90,489.10 310.35,490.00 326.80,490.30 343.25,490.60 359.70,490.60 376.15,490.30 392.60,490.60" fill="none" stroke="#ff7f50" stroke-width="1.45" stroke-linejoin="round"/>
<path d="M47.15 437.30L48.77 438.47L48.15 440.38L46.15 440.38L45.53 438.47Z" fill="#ff7f50"/>
<path d="M63.60 438.40L65.22 439.57L64.60 441.48L62.60 441.48L61.98 439.57Z" fill="#ff7f50"/>
<path d="M80.05 440.90L81.67 442.07L81.05 443.98L79.05 443.98L78.43 442.07Z" fill="#ff7f50"/>
<path d="M96.50 443.30L98.12 444.47L97.50 446.38L95.50 446.38L94.88 444.47Z" fill="#ff7f50"/>
<path d="M112.95 445.30L114.57 446.47L113.95 448.38L111.95 448.38L111.33 446.47Z" fill="#ff7f50"/>
<path d="M129.40 448.10L131.02 449.27L130.40 451.18L128.40 451.18L127.78 449.27Z" fill="#ff7f50"/>
<path d="M145.85 453.00L147.47 454.17L146.85 456.08L144.85 456.08L144.23 454.17Z" fill="#ff7f50"/>
<path d="M162.30 459.00L163.92 460.17L163.30 462.08L161.30 462.08L160.68 460.17Z" fill="#ff7f50"/>
<path d="M178.75 463.60L180.37 464.77L179.75 466.68L177.75 466.68L177.13 464.77Z" fill="#ff7f50"/>
<path d="M195.20 468.30L196.82 469.47L196.20 471.38L194.20 471.38L193.58 469.47Z" fill="#ff7f50"/>
<path d="M211.65 472.60L213.27 473.77L212.65 475.68L210.65 475.68L210.03 473.77Z" fill="#ff7f50"/>
<path d="M228.10 477.60L229.72 478.77L229.10 480.68L227.10 480.68L226.48 478.77Z" fill="#ff7f50"/>
<path d="M244.55 480.50L246.17 481.67L245.55 483.58L243.55 483.58L242.93 481.67Z" fill="#ff7f50"/>
<path d="M261.00 482.50L262.62 483.67L262.00 485.58L260.00 485.58L259.38 483.67Z" fill="#ff7f50"/>
<path d="M277.45 486.10L279.07 487.27L278.45 489.18L276.45 489.18L275.83 487.27Z" fill="#ff7f50"/>
<path d="M293.90 487.40L295.52 488.57L294.90 490.48L292.90 490.48L292.28 488.57Z" fill="#ff7f50"/>
<path d="M310.35 488.30L311.97 489.47L311.35 491.38L309.35 491.38L308.73 489.47Z" fill="#ff7f50"/>
<path d="M326.80 488.60L328.42 489.77L327.80 491.68L325.80 491.68L325.18 489.77Z" fill="#ff7f50"/>
<path d="M343.25 488.90L344.87 490.07L344.25 491.98L342.25 491.98L341.63 490.07Z" fill="#ff7f50"/>
<path d="M359.70 488.90L361.32 490.07L360.70 491.98L358.70 491.98L358.08 490.07Z" fill="#ff7f50"/>
<path d="M376.15 488.60L377.77 489.77L377.15 491.68L375.15 491.68L374.53 489.77Z" fill="#ff7f50"/>
<path d="M392.60 488.90L394.22 490.07L393.60 491.98L391.60 491.98L390.98 490.07Z" fill="#ff7f50"/>
<polyline points="47.15,446.40 63.60,448.90 80.05,451.40 96.50,453.70 112.95,455.80 129.40,458.20 145.85,463.50 162.30,469.30 178.75,474.80 195.20,480.30 211.65,485.90 228.10,491.20 244.55,496.30 261.00,499.90 277.45,503.90 293.90,508.70 310.35,509.00 326.80,510.10 343.25,510.60 359.70,511.80 376.15,512.60 392.60,513.90" fill="none" stroke="#4682b4" stroke-width="1.45" stroke-linejoin="round"/>
<path d="M47.15 444.70L48.77 445.87L48.15 447.78L46.15 447.78L45.53 445.87Z" fill="#4682b4"/>
<path d="M63.60 447.20L65.22 448.37L64.60 450.28L62.60 450.28L61.98 448.37Z" fill="#4682b4"/>
<path d="M80.05 449.70L81.67 450.87L81.05 452.78L79.05 452.78L78.43 450.87Z" fill="#4682b4"/>
<path d="M96.50 452.00L98.12 453.17L97.50 455.08L95.50 455.08L94.88 453.17Z" fill="#4682b4"/>
<path d="M112.95 454.10L114.57 455.27L113.95 457.18L111.95 457.18L111.33 455.27Z" fill="#4682b4"/>
<path d="M129.40 456.50L131.02 457.67L130.40 459.58L128.40 459.58L127.78 457.67Z" fill="#4682b4"/>
<path d="M145.85 461.80L147.47 462.97L146.85 464.88L144.85 464.88L144.23 462.97Z" fill="#4682b4"/>
<path d="M162.30 467.60L163.92 468.77L163.30 470.68L161.30 470.68L160.68 468.77Z" fill="#4682b4"/>
<path d="M178.75 473.10L180.37 474.27L179.75 476.18L177.75 476.18L177.13 474.27Z" fill="#4682b4"/>
<path d="M195.20 478.60L196.82 479.77L196.20 481.68L194.20 481.68L193.58 479.77Z" fill="#4682b4"/>
<path d="M211.65 484.20L213.27 485.37L212.65 487.28L210.65 487.28L210.03 485.37Z" fill="#4682b4"/>
<path d="M228.10 489.50L229.72 490.67L229.10 492.58L227.10 492.58L226.48 490.67Z" fill="#4682b4"/>
<path d="M244.55 494.60L246.17 495.77L245.55 497.68L243.55 497.68L242.93 495.77Z" fill="#4682b4"/>
<path d="M261.00 498.20L262.62 499.37L262.00 501.28L260.00 501.28L259.38 499.37Z" fill="#4682b4"/>
<path d="M277.45 502.20L279.07 503.37L278.45 505.28L276.45 505.28L275.83 503.37Z" fill="#4682b4"/>
<path d="M293.90 507.00L295.52 508.17L294.90 510.08L292.90 510.08L292.28 508.17Z" fill="#4682b4"/>
<path d="M310.35 507.30L311.97 508.47L311.35 510.38L309.35 510.38L308.73 508.47Z" fill="#4682b4"/>
<path d="M326.80 508.40L328.42 509.57L327.80 511.48L325.80 511.48L325.18 509.57Z" fill="#4682b4"/>
<path d="M343.25 508.90L344.87 510.07L344.25 511.98L342.25 511.98L341.63 510.07Z" fill="#4682b4"/>
<path d="M359.70 510.10L361.32 511.27L360.70 513.18L358.70 513.18L358.08 511.27Z" fill="#4682b4"/>
<path d="M376.15 510.90L377.77 512.07L377.15 513.98L375.15 513.98L374.53 512.07Z" fill="#4682b4"/>
<path d="M392.60 512.20L394.22 513.37L393.60 515.28L391.60 515.28L390.98 513.37Z" fill="#4682b4"/>
<polyline points="47.15,453.00 63.60,455.10 80.05,458.60 96.50,461.90 112.95,465.10 129.40,467.60 145.85,471.00 162.30,475.10 178.75,478.70 195.20,483.20 211.65,487.50 228.10,491.20 244.55,495.10 261.00,498.00 277.45,500.70 293.90,502.80 310.35,504.50 326.80,506.10 343.25,507.40 359.70,508.50 376.15,509.00 392.60,510.60" fill="none" stroke="#ff69b4" stroke-width="1.45" stroke-linejoin="round"/>
<path d="M45.45 453.00H48.85M47.15 451.30V454.70" stroke="#ff69b4" stroke-width="1.3"/>
<path d="M61.90 455.10H65.30M63.60 453.40V456.80" stroke="#ff69b4" stroke-width="1.3"/>
<path d="M78.35 458.60H81.75M80.05 456.90V460.30" stroke="#ff69b4" stroke-width="1.3"/>
<path d="M94.80 461.90H98.20M96.50 460.20V463.60" stroke="#ff69b4" stroke-width="1.3"/>
<path d="M111.25 465.10H114.65M112.95 463.40V466.80" stroke="#ff69b4" stroke-width="1.3"/>
<path d="M127.70 467.60H131.10M129.40 465.90V469.30" stroke="#ff69b4" stroke-width="1.3"/>
<path d="M144.15 471.00H147.55M145.85 469.30V472.70" stroke="#ff69b4" stroke-width="1.3"/>
<path d="M160.60 475.10H164.00M162.30 473.40V476.80" stroke="#ff69b4" stroke-width="1.3"/>
<path d="M177.05 478.70H180.45M178.75 477.00V480.40" stroke="#ff69b4" stroke-width="1.3"/>
<path d="M193.50 483.20H196.90M195.20 481.50V484.90" stroke="#ff69b4" stroke-width="1.3"/>
<path d="M209.95 487.50H213.35M211.65 485.80V489.20" stroke="#ff69b4" stroke-width="1.3"/>
<path d="M226.40 491.20H229.80M228.10 489.50V492.90" stroke="#ff69b4" stroke-width="1.3"/>
<path d="M242.85 495.10H246.25M244.55 493.40V496.80" stroke="#ff69b4" stroke-width="1.3"/>
<path d="M259.30 498.00H262.70M261.00 496.30V499.70" stroke="#ff69b4" stroke-width="1.3"/>
<path d="M275.75 500.70H279.15M277.45 499.00V502.40" stroke="#ff69b4" stroke-width="1.3"/>
<path d="M292.20 502.80H295.60M293.90 501.10V504.50" stroke="#ff69b4" stroke-width="1.3"/>
<path d="M308.65 504.50H312.05M310.35 502.80V506.20" stroke="#ff69b4" stroke-width="1.3"/>
<path d="M325.10 506.10H328.50M326.80 504.40V507.80" stroke="#ff69b4" stroke-width="1.3"/>
<path d="M341.55 507.40H344.95M343.25 505.70V509.10" stroke="#ff69b4" stroke-width="1.3"/>
<path d="M358.00 508.50H361.40M359.70 506.80V510.20" stroke="#ff69b4" stroke-width="1.3"/>
<path d="M374.45 509.00H377.85M376.15 507.30V510.70" stroke="#ff69b4" stroke-width="1.3"/>
<path d="M390.90 510.60H394.30M392.60 508.90V512.30" stroke="#ff69b4" stroke-width="1.3"/>
<polyline points="47.15,460.20 63.60,464.30 80.05,469.50 96.50,473.90 112.95,478.50 129.40,485.20 145.85,489.60 162.30,495.90 178.75,501.00 195.20,506.40 211.65,511.20 228.10,516.50 244.55,521.40 261.00,524.70 277.45,529.90 293.90,534.20 310.35,537.20 326.80,541.20 343.25,543.60 359.70,546.40 376.15,548.00 392.60,549.10" fill="none" stroke="#9acd32" stroke-width="1.45" stroke-linejoin="round"/>
<path d="M47.15 458.50L48.77 459.67L48.15 461.58L46.15 461.58L45.53 459.67Z" fill="#9acd32"/>
<path d="M63.60 462.60L65.22 463.77L64.60 465.68L62.60 465.68L61.98 463.77Z" fill="#9acd32"/>
<path d="M80.05 467.80L81.67 468.97L81.05 470.88L79.05 470.88L78.43 468.97Z" fill="#9acd32"/>
<path d="M96.50 472.20L98.12 473.37L97.50 475.28L95.50 475.28L94.88 473.37Z" fill="#9acd32"/>
<path d="M112.95 476.80L114.57 477.97L113.95 479.88L111.95 479.88L111.33 477.97Z" fill="#9acd32"/>
<path d="M129.40 483.50L131.02 484.67L130.40 486.58L128.40 486.58L127.78 484.67Z" fill="#9acd32"/>
<path d="M145.85 487.90L147.47 489.07L146.85 490.98L144.85 490.98L144.23 489.07Z" fill="#9acd32"/>
<path d="M162.30 494.20L163.92 495.37L163.30 497.28L161.30 497.28L160.68 495.37Z" fill="#9acd32"/>
<path d="M178.75 499.30L180.37 500.47L179.75 502.38L177.75 502.38L177.13 500.47Z" fill="#9acd32"/>
<path d="M195.20 504.70L196.82 505.87L196.20 507.78L194.20 507.78L193.58 505.87Z" fill="#9acd32"/>
<path d="M211.65 509.50L213.27 510.67L212.65 512.58L210.65 512.58L210.03 510.67Z" fill="#9acd32"/>
<path d="M228.10 514.80L229.72 515.97L229.10 517.88L227.10 517.88L226.48 515.97Z" fill="#9acd32"/>
<path d="M244.55 519.70L246.17 520.87L245.55 522.78L243.55 522.78L242.93 520.87Z" fill="#9acd32"/>
<path d="M261.00 523.00L262.62 524.17L262.00 526.08L260.00 526.08L259.38 524.17Z" fill="#9acd32"/>
<path d="M277.45 528.20L279.07 529.37L278.45 531.28L276.45 531.28L275.83 529.37Z" fill="#9acd32"/>
<path d="M293.90 532.50L295.52 533.67L294.90 535.58L292.90 535.58L292.28 533.67Z" fill="#9acd32"/>
<path d="M310.35 535.50L311.97 536.67L311.35 538.58L309.35 538.58L308.73 536.67Z" fill="#9acd32"/>
<path d="M326.80 539.50L328.42 540.67L327.80 542.58L325.80 542.58L325.18 540.67Z" fill="#9acd32"/>
<path d="M343.25 541.90L344.87 543.07L344.25 544.98L342.25 544.98L341.63 543.07Z" fill="#9acd32"/>
<path d="M359.70 544.70L361.32 545.87L360.70 547.78L358.70 547.78L358.08 545.87Z" fill="#9acd32"/>
<path d="M376.15 546.30L377.77 547.47L377.15 549.38L375.15 549.38L374.53 547.47Z" fill="#9acd32"/>
<path d="M392.60 547.40L394.22 548.57L393.60 550.48L391.60 550.48L390.98 548.57Z" fill="#9acd32"/>
<polyline points="47.15,479.90 63.60,485.00 80.05,489.70 96.50,494.20 112.95,498.20 129.40,502.40 145.85,505.70 162.30,509.30 178.75,513.70 195.20,519.20 211.65,523.00 228.10,526.60 244.55,530.60 261.00,536.70 277.45,543.00 293.90,548.10 310.35,549.50 326.80,550.90 343.25,552.00 359.70,553.20 376.15,553.70 392.60,554.50" fill="none" stroke="#ffd700" stroke-width="1.45" stroke-linejoin="round"/>
<path d="M47.15 477.35L49.49 481.60L44.81 481.60Z" fill="#ffd700"/>
<path d="M63.60 482.45L65.94 486.70L61.26 486.70Z" fill="#ffd700"/>
<path d="M80.05 487.15L82.39 491.40L77.71 491.40Z" fill="#ffd700"/>
<path d="M96.50 491.65L98.84 495.90L94.16 495.90Z" fill="#ffd700"/>
<path d="M112.95 495.65L115.29 499.90L110.61 499.90Z" fill="#ffd700"/>
<path d="M129.40 499.85L131.74 504.10L127.06 504.10Z" fill="#ffd700"/>
<path d="M145.85 503.15L148.19 507.40L143.51 507.40Z" fill="#ffd700"/>
<path d="M162.30 506.75L164.64 511.00L159.96 511.00Z" fill="#ffd700"/>
<path d="M178.75 511.15L181.09 515.40L176.41 515.40Z" fill="#ffd700"/>
<path d="M195.20 516.65L197.54 520.90L192.86 520.90Z" fill="#ffd700"/>
<path d="M211.65 520.45L213.99 524.70L209.31 524.70Z" fill="#ffd700"/>
<path d="M228.10 524.05L230.44 528.30L225.76 528.30Z" fill="#ffd700"/>
<path d="M244.55 528.05L246.89 532.30L242.21 532.30Z" fill="#ffd700"/>
<path d="M261.00 534.15L263.34 538.40L258.66 538.40Z" fill="#ffd700"/>
<path d="M277.45 540.45L279.79 544.70L275.11 544.70Z" fill="#ffd700"/>
<path d="M293.90 545.55L296.24 549.80L291.56 549.80Z" fill="#ffd700"/>
<path d="M310.35 546.95L312.69 551.20L308.01 551.20Z" fill="#ffd700"/>
<path d="M326.80 548.35L329.14 552.60L324.46 552.60Z" fill="#ffd700"/>
<path d="M343.25 549.45L345.59 553.70L340.91 553.70Z" fill="#ffd700"/>
<path d="M359.70 550.65L362.04 554.90L357.36 554.90Z" fill="#ffd700"/>
<path d="M376.15 551.15L378.49 555.40L373.81 555.40Z" fill="#ffd700"/>
<path d="M392.60 551.95L394.94 556.20L390.26 556.20Z" fill="#ffd700"/>
<polyline points="47.15,441.30 63.60,443.50 80.05,447.00 96.50,449.90 112.95,452.30 129.40,455.20 145.85,459.10 162.30,463.90 178.75,467.80 195.20,472.70 211.65,476.60 228.10,480.40 244.55,485.00 261.00,488.40 277.45,493.00 293.90,496.10 310.35,497.90 326.80,500.10 343.25,501.40 359.70,503.00 376.15,503.30 392.60,504.10" fill="none" stroke="#00008b" stroke-width="1.45" stroke-linejoin="round"/>
<path d="M45.62 439.77L48.68 442.83M45.62 442.83L48.68 439.77" stroke="#00008b" stroke-width="1.2"/>
<path d="M62.07 441.97L65.13 445.03M62.07 445.03L65.13 441.97" stroke="#00008b" stroke-width="1.2"/>
<path d="M78.52 445.47L81.58 448.53M78.52 448.53L81.58 445.47" stroke="#00008b" stroke-width="1.2"/>
<path d="M94.97 448.37L98.03 451.43M94.97 451.43L98.03 448.37" stroke="#00008b" stroke-width="1.2"/>
<path d="M111.42 450.77L114.48 453.83M111.42 453.83L114.48 450.77" stroke="#00008b" stroke-width="1.2"/>
<path d="M127.87 453.67L130.93 456.73M127.87 456.73L130.93 453.67" stroke="#00008b" stroke-width="1.2"/>
<path d="M144.32 457.57L147.38 460.63M144.32 460.63L147.38 457.57" stroke="#00008b" stroke-width="1.2"/>
<path d="M160.77 462.37L163.83 465.43M160.77 465.43L163.83 462.37" stroke="#00008b" stroke-width="1.2"/>
<path d="M177.22 466.27L180.28 469.33M177.22 469.33L180.28 466.27" stroke="#00008b" stroke-width="1.2"/>
<path d="M193.67 471.17L196.73 474.23M193.67 474.23L196.73 471.17" stroke="#00008b" stroke-width="1.2"/>
<path d="M210.12 475.07L213.18 478.13M210.12 478.13L213.18 475.07" stroke="#00008b" stroke-width="1.2"/>
<path d="M226.57 478.87L229.63 481.93M226.57 481.93L229.63 478.87" stroke="#00008b" stroke-width="1.2"/>
<path d="M243.02 483.47L246.08 486.53M243.02 486.53L246.08 483.47" stroke="#00008b" stroke-width="1.2"/>
<path d="M259.47 486.87L262.53 489.93M259.47 489.93L262.53 486.87" stroke="#00008b" stroke-width="1.2"/>
<path d="M275.92 491.47L278.98 494.53M275.92 494.53L278.98 491.47" stroke="#00008b" stroke-width="1.2"/>
<path d="M292.37 494.57L295.43 497.63M292.37 497.63L295.43 494.57" stroke="#00008b" stroke-width="1.2"/>
<path d="M308.82 496.37L311.88 499.43M308.82 499.43L311.88 496.37" stroke="#00008b" stroke-width="1.2"/>
<path d="M325.27 498.57L328.33 501.63M325.27 501.63L328.33 498.57" stroke="#00008b" stroke-width="1.2"/>
<path d="M341.72 499.87L344.78 502.93M341.72 502.93L344.78 499.87" stroke="#00008b" stroke-width="1.2"/>
<path d="M358.17 501.47L361.23 504.53M358.17 504.53L361.23 501.47" stroke="#00008b" stroke-width="1.2"/>
<path d="M374.62 501.77L377.68 504.83M374.62 504.83L377.68 501.77" stroke="#00008b" stroke-width="1.2"/>
<path d="M391.07 502.57L394.13 505.63M391.07 505.63L394.13 502.57" stroke="#00008b" stroke-width="1.2"/>
<line x1="294.30" y1="404.20" x2="294.30" y2="561.50" stroke="#111" stroke-width="1.1" stroke-dasharray="6.5 2"/>
<text x="295.60" y="412.40" font-size="7.5" text-anchor="start" fill="#222" textLength="67.9" lengthAdjust="spacingAndGlyphs">2015: GAP launched</text>
<text x="184.60" y="465.60" font-size="7.5" text-anchor="start" fill="#222" textLength="113.7" lengthAdjust="spacingAndGlyphs">2011: EURO published action plan</text>
<line x1="241.80" y1="467.40" x2="232.00" y2="476.60" stroke="#222" stroke-width="0.8"/>
<path d="M230.2 478.3 L231.0 474.9 L233.4 477.3 Z" fill="#222"/>
<path d="M228.10 475.20L229.30 477.64L232.00 478.03L230.05 479.93L230.51 482.62L228.10 481.35L225.69 482.62L226.15 479.93L224.20 478.03L226.90 477.64Z" fill="#d7191c"/>
<path d="M293.90 492.00L295.10 494.44L297.80 494.83L295.85 496.73L296.31 499.42L293.90 498.15L291.49 499.42L291.95 496.73L290.00 494.83L292.70 494.44Z" fill="#d7191c"/>
<path d="M293.90 485.00L295.10 487.44L297.80 487.83L295.85 489.73L296.31 492.42L293.90 491.15L291.49 492.42L291.95 489.73L290.00 487.83L292.70 487.44Z" fill="#d7191c"/>
<path d="M293.90 504.60L295.10 507.04L297.80 507.43L295.85 509.33L296.31 512.02L293.90 510.75L291.49 512.02L291.95 509.33L290.00 507.43L292.70 507.04Z" fill="#d7191c"/>
<path d="M277.45 496.60L278.65 499.04L281.35 499.43L279.40 501.33L279.86 504.02L277.45 502.75L275.04 504.02L275.50 501.33L273.55 499.43L276.25 499.04Z" fill="#d7191c"/>
<path d="M293.90 544.00L295.10 546.44L297.80 546.83L295.85 548.73L296.31 551.42L293.90 550.15L291.49 551.42L291.95 548.73L290.00 546.83L292.70 546.44Z" fill="#d7191c"/>
<path d="M310.35 458.20L311.55 460.64L314.25 461.03L312.30 462.93L312.76 465.62L310.35 464.35L307.94 465.62L308.40 462.93L306.45 461.03L309.15 460.64Z" fill="#d7191c"/>
<path d="M326.80 537.10L328.00 539.54L330.70 539.93L328.75 541.83L329.21 544.52L326.80 543.25L324.39 544.52L324.85 541.83L322.90 539.93L325.60 539.54Z" fill="#d7191c"/>
<path d="M431.79 393.29L435.21 396.71M431.79 396.71L435.21 393.29" stroke="#00008b" stroke-width="1.2"/>
<text x="438.40" y="398.00" font-size="7.2" text-anchor="start" fill="#222" textLength="22.2" lengthAdjust="spacingAndGlyphs">Global</text>
<line x1="427.00" y1="405.40" x2="442.20" y2="405.40" stroke="#2b2b9e" stroke-width="1.0"/>
<text x="444.90" y="408.40" font-size="7.2" text-anchor="start" fill="#222" textLength="89.3" lengthAdjust="spacingAndGlyphs">2000–2005, APC = −0.83*</text>
<line x1="427.00" y1="416.50" x2="442.20" y2="416.50" stroke="#3c3ca8" stroke-width="1.0"/>
<text x="444.90" y="419.50" font-size="7.2" text-anchor="start" fill="#222" textLength="84.4" lengthAdjust="spacingAndGlyphs">2005–2015, APC = −1.32*</text>
<line x1="427.00" y1="427.30" x2="442.20" y2="427.30" stroke="#6a6ac2" stroke-width="1.4"/>
<path d="M423.70 425.20L424.32 426.45L425.70 426.65L424.70 427.62L424.93 429.00L423.70 428.35L422.47 429.00L422.70 427.62L421.70 426.65L423.08 426.45Z" fill="#d7191c"/>
<text x="444.90" y="430.30" font-size="7.2" text-anchor="start" fill="#222" textLength="84.8" lengthAdjust="spacingAndGlyphs">2015–2019, APC = −0.52*</text>
<line x1="427.00" y1="438.30" x2="442.20" y2="438.30" stroke="#9898d6" stroke-width="2.0"/>
<text x="444.90" y="441.30" font-size="7.2" text-anchor="start" fill="#222" textLength="82.3" lengthAdjust="spacingAndGlyphs">2019–2021, APC = −0.21*</text>
<circle cx="433.50" cy="450.00" r="1.9" fill="#3cb371"/>
<text x="438.40" y="453.00" font-size="7.2" text-anchor="start" fill="#222" textLength="19.3" lengthAdjust="spacingAndGlyphs">AFRO</text>
<line x1="427.00" y1="460.00" x2="442.20" y2="460.00" stroke="#a9dcbb" stroke-width="1.4"/>
<text x="444.90" y="463.00" font-size="7.2" text-anchor="start" fill="#222" textLength="87.2" lengthAdjust="spacingAndGlyphs">2000–2008, APC = −0.71*</text>
<line x1="427.00" y1="470.80" x2="442.20" y2="470.80" stroke="#86cfa0" stroke-width="1.0"/>
<text x="444.90" y="473.80" font-size="7.2" text-anchor="start" fill="#222" textLength="85.2" lengthAdjust="spacingAndGlyphs">2008–2013, APC = −0.98*</text>
<line x1="427.00" y1="481.50" x2="442.20" y2="481.50" stroke="#5cbd84" stroke-width="1.0"/>
<text x="444.90" y="484.50" font-size="7.2" text-anchor="start" fill="#222" textLength="81.7" lengthAdjust="spacingAndGlyphs">2013–2016, APC = −1.57*</text>
<line x1="427.00" y1="492.40" x2="442.20" y2="492.40" stroke="#3cb371" stroke-width="1.0"/>
<path d="M423.70 490.30L424.32 491.55L425.70 491.75L424.70 492.72L424.93 494.10L423.70 493.45L422.47 494.10L422.70 492.72L421.70 491.75L423.08 491.55Z" fill="#d7191c"/>
<text x="444.90" y="495.40" font-size="7.2" text-anchor="start" fill="#222" textLength="83.3" lengthAdjust="spacingAndGlyphs">2016–2021, APC = −0.74*</text>
<path d="M433.50 501.88L435.63 505.75L431.37 505.75Z" fill="#f5c518"/>
<text x="438.40" y="507.20" font-size="7.2" text-anchor="start" fill="#222" textLength="20.8" lengthAdjust="spacingAndGlyphs">EMRO</text>
<line x1="427.00" y1="514.20" x2="442.20" y2="514.20" stroke="#f8d34a" stroke-width="1.2"/>
<text x="444.90" y="517.20" font-size="7.2" text-anchor="start" fill="#222" textLength="84.8" lengthAdjust="spacingAndGlyphs">2000–2012, APC = −1.46*</text>
<line x1="427.00" y1="525.10" x2="442.20" y2="525.10" stroke="#f8d34a" stroke-width="1.2"/>
<text x="444.90" y="528.10" font-size="7.2" text-anchor="start" fill="#222" textLength="82.3" lengthAdjust="spacingAndGlyphs">2012–2015, APC = −2.47*</text>
<line x1="427.00" y1="536.30" x2="442.20" y2="536.30" stroke="#f8d34a" stroke-width="1.4"/>
<path d="M423.70 534.20L424.32 535.45L425.70 535.65L424.70 536.62L424.93 538.00L423.70 537.35L422.47 538.00L422.70 536.62L421.70 535.65L423.08 535.45Z" fill="#d7191c"/>
<text x="444.90" y="539.30" font-size="7.2" text-anchor="start" fill="#222" textLength="84.8" lengthAdjust="spacingAndGlyphs">2015–2021, APC = −0.40*</text>
<path d="M431.50 548.70H435.50M433.50 546.70V550.70" stroke="#f060c0" stroke-width="1.6"/>
<text x="438.40" y="551.70" font-size="7.2" text-anchor="start" fill="#222" textLength="21.4" lengthAdjust="spacingAndGlyphs">WPRO</text>
<line x1="427.00" y1="558.80" x2="442.20" y2="558.80" stroke="#f27cc8" stroke-width="1.0"/>
<text x="444.90" y="561.80" font-size="7.2" text-anchor="start" fill="#222" textLength="89.3" lengthAdjust="spacingAndGlyphs">2000–2006, APC = −0.94*</text>
<line x1="427.00" y1="570.00" x2="442.20" y2="570.00" stroke="#f7a6d9" stroke-width="1.8"/>
<text x="444.90" y="573.00" font-size="7.2" text-anchor="start" fill="#222" textLength="84.4" lengthAdjust="spacingAndGlyphs">2006–2014, APC = −1.29*</text>
<line x1="427.00" y1="581.30" x2="442.20" y2="581.30" stroke="#f59ad4" stroke-width="1.6"/>
<path d="M423.70 579.20L424.32 580.45L425.70 580.65L424.70 581.62L424.93 583.00L423.70 582.35L422.47 583.00L422.70 581.62L421.70 580.65L423.08 580.45Z" fill="#d7191c"/>
<text x="444.90" y="584.30" font-size="7.2" text-anchor="start" fill="#222" textLength="82.7" lengthAdjust="spacingAndGlyphs">2014–2021, APC = −0.41*</text>
<path d="M561.30 393.40L562.82 394.51L562.24 396.29L560.36 396.29L559.78 394.51Z" fill="#4682b4"/>
<text x="567.10" y="398.00" font-size="7.2" text-anchor="start" fill="#222" textLength="20.8" lengthAdjust="spacingAndGlyphs">AMRO</text>
<line x1="555.60" y1="405.40" x2="570.50" y2="405.40" stroke="#4c82c0" stroke-width="1.0"/>
<text x="573.20" y="408.40" font-size="7.2" text-anchor="start" fill="#222" textLength="89.9" lengthAdjust="spacingAndGlyphs">2000–2005, APC = −0.68*</text>
<line x1="555.60" y1="416.50" x2="570.50" y2="416.50" stroke="#4c82c0" stroke-width="1.0"/>
<text x="573.20" y="419.50" font-size="7.2" text-anchor="start" fill="#222" textLength="82.2" lengthAdjust="spacingAndGlyphs">2005–2011, APC = −1.75*</text>
<line x1="555.60" y1="427.30" x2="570.50" y2="427.30" stroke="#80a9d8" stroke-width="1.2"/>
<text x="573.20" y="430.30" font-size="7.2" text-anchor="start" fill="#222" textLength="80.5" lengthAdjust="spacingAndGlyphs">2011–2015, APC = −1.42*</text>
<line x1="555.60" y1="438.30" x2="570.50" y2="438.30" stroke="#a6c2e4" stroke-width="2.0"/>
<path d="M552.30 436.20L552.92 437.45L554.30 437.65L553.30 438.62L553.53 440.00L552.30 439.35L551.07 440.00L551.30 438.62L550.30 437.65L551.68 437.45Z" fill="#d7191c"/>
<text x="573.20" y="441.30" font-size="7.2" text-anchor="start" fill="#222" textLength="84.2" lengthAdjust="spacingAndGlyphs">2015–2021, APC = −0.35*</text>
<path d="M561.30 448.40L562.82 449.51L562.24 451.29L560.36 451.29L559.78 449.51Z" fill="#ff7f50"/>
<text x="567.10" y="453.00" font-size="7.2" text-anchor="start" fill="#222" textLength="18.8" lengthAdjust="spacingAndGlyphs">EURO</text>
<line x1="555.60" y1="460.00" x2="570.50" y2="460.00" stroke="#fcc6b0" stroke-width="1.4"/>
<text x="573.20" y="463.00" font-size="7.2" text-anchor="start" fill="#222" textLength="89.3" lengthAdjust="spacingAndGlyphs">2000–2005, APC = −0.66*</text>
<line x1="555.60" y1="470.80" x2="570.50" y2="470.80" stroke="#f9a487" stroke-width="1.0"/>
<text x="573.20" y="473.80" font-size="7.2" text-anchor="start" fill="#222" textLength="82.2" lengthAdjust="spacingAndGlyphs">2005–2011, APC = −1.52*</text>
<line x1="555.60" y1="481.50" x2="570.50" y2="481.50" stroke="#f7825a" stroke-width="1.0"/>
<path d="M552.30 479.40L552.92 480.65L554.30 480.85L553.30 481.82L553.53 483.20L552.30 482.55L551.07 483.20L551.30 481.82L550.30 480.85L551.68 480.65Z" fill="#d7191c"/>
<text x="573.20" y="484.50" font-size="7.2" text-anchor="start" fill="#222" textLength="83.2" lengthAdjust="spacingAndGlyphs">2011–2015, APC = −0.84*</text>
<line x1="555.60" y1="492.60" x2="570.50" y2="492.60" stroke="#f7825a" stroke-width="1.0"/>
<path d="M552.30 490.50L552.92 491.75L554.30 491.95L553.30 492.92L553.53 494.30L552.30 493.65L551.07 494.30L551.30 492.92L550.30 491.95L551.68 491.75Z" fill="#d7191c"/>
<text x="573.20" y="495.60" font-size="7.2" text-anchor="start" fill="#222" textLength="81.5" lengthAdjust="spacingAndGlyphs">2015–2021, APC = −0.04</text>
<path d="M561.30 502.60L562.82 503.71L562.24 505.49L560.36 505.49L559.78 503.71Z" fill="#9acd32"/>
<text x="567.10" y="507.20" font-size="7.2" text-anchor="start" fill="#222" textLength="22.9" lengthAdjust="spacingAndGlyphs">SEARO</text>
<line x1="555.60" y1="514.20" x2="570.50" y2="514.20" stroke="#9fd04a" stroke-width="1.0"/>
<text x="573.20" y="517.20" font-size="7.2" text-anchor="start" fill="#222" textLength="86.9" lengthAdjust="spacingAndGlyphs">2000–2004, APC = −1.44*</text>
<line x1="555.60" y1="525.10" x2="570.50" y2="525.10" stroke="#b6dc78" stroke-width="1.2"/>
<text x="573.20" y="528.10" font-size="7.2" text-anchor="start" fill="#222" textLength="81.8" lengthAdjust="spacingAndGlyphs">2004–2011, APC = −1.86*</text>
<line x1="555.60" y1="536.30" x2="570.50" y2="536.30" stroke="#a9d45e" stroke-width="1.2"/>
<text x="573.20" y="539.30" font-size="7.2" text-anchor="start" fill="#222" textLength="81.1" lengthAdjust="spacingAndGlyphs">2011–2017, APC = −1.60*</text>
<line x1="555.60" y1="547.30" x2="570.50" y2="547.30" stroke="#98c840" stroke-width="1.0"/>
<path d="M552.30 545.20L552.92 546.45L554.30 546.65L553.30 547.62L553.53 549.00L552.30 548.35L551.07 549.00L551.30 547.62L550.30 546.65L551.68 546.45Z" fill="#d7191c"/>
<text x="573.20" y="550.30" font-size="7.2" text-anchor="start" fill="#222" textLength="82.2" lengthAdjust="spacingAndGlyphs">2017–2021, APC = −0.76*</text>
</svg></body></html>
